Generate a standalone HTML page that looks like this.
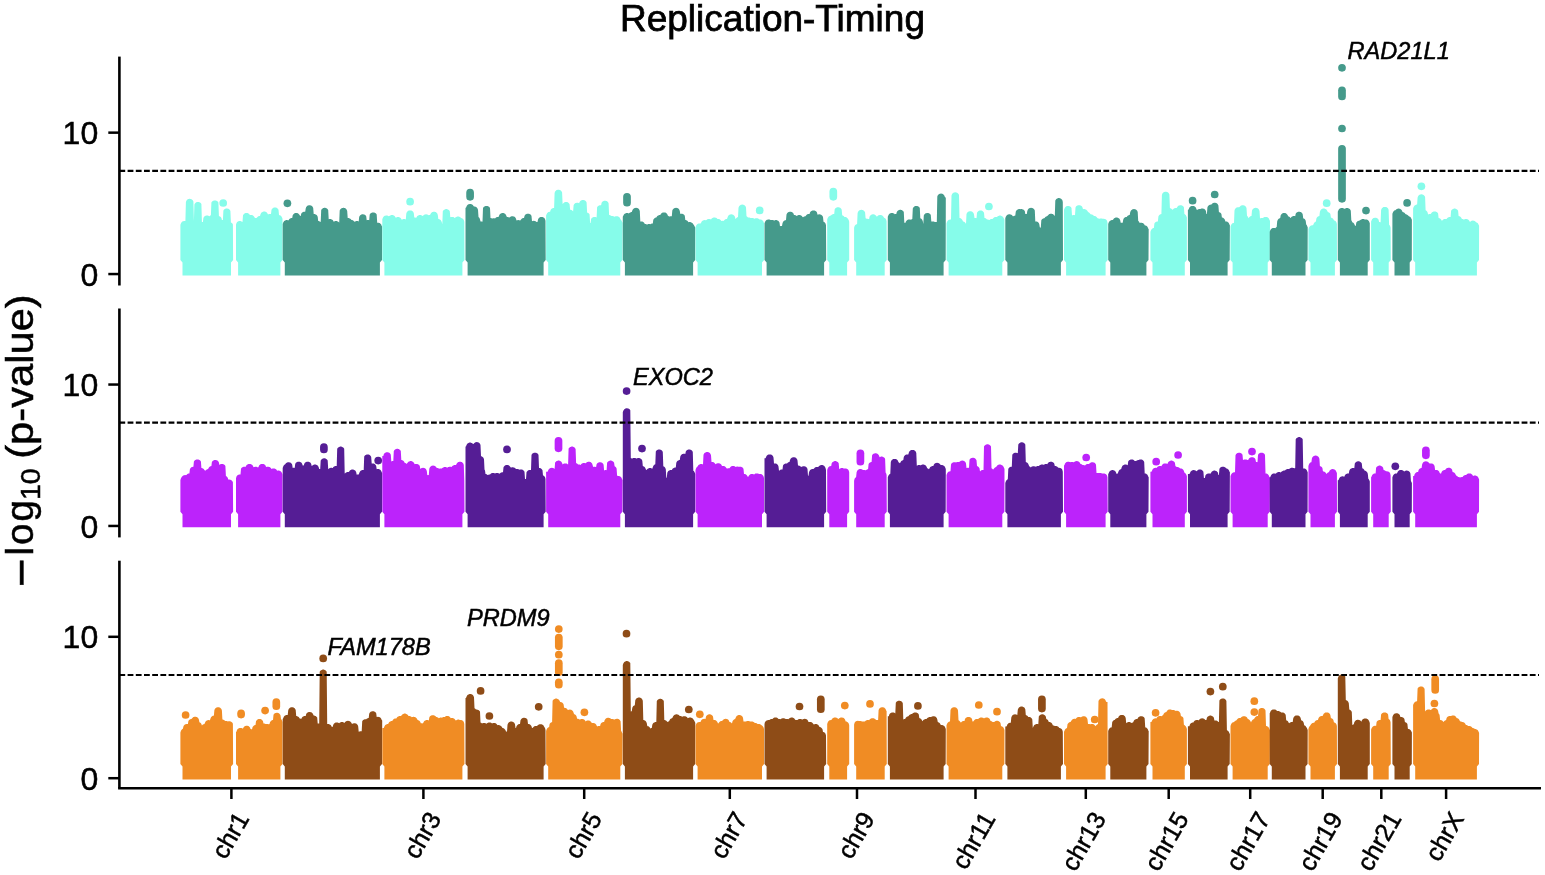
<!DOCTYPE html><html><head><meta charset="utf-8"><style>html,body{margin:0;padding:0;background:#fff;overflow:hidden}svg{display:block}text{stroke:#000;stroke-width:0.5px}</style></head><body><svg width="1545" height="875" viewBox="0 0 1545 875">
<rect width="1545" height="875" fill="#fff"/>
<path d="M182.5,275.4L182.5,262.4L180.4,259.9L180.4,224.8L180.9,223.5L181.4,222.6L181.9,222.0L182.4,221.6L182.9,221.3L183.4,221.2L183.9,221.0L184.4,221.0L184.9,221.0L185.4,221.1L185.9,202.0L186.4,200.7L186.9,200.0L187.4,199.6L187.9,199.2L188.4,199.0L188.9,198.9L189.4,198.8L189.9,198.8L190.4,198.9L190.9,199.0L191.4,199.2L191.9,199.5L192.4,199.9L192.9,200.5L193.4,201.6L193.9,221.0L194.4,204.4L194.9,203.5L195.4,202.9L195.9,202.5L196.4,202.2L196.9,202.1L197.4,201.9L197.9,201.9L198.4,201.9L198.9,202.0L199.4,202.2L199.9,202.4L200.4,202.7L200.9,203.2L201.4,203.9L201.9,222.0L202.4,222.0L202.9,222.1L203.4,218.0L203.9,217.1L204.4,216.5L204.9,216.1L205.4,215.8L205.9,215.7L206.4,215.5L206.9,215.5L207.4,215.5L207.9,215.6L208.4,215.8L208.9,216.0L209.4,216.3L209.9,216.1L210.4,215.5L210.9,215.1L211.4,202.6L211.9,201.8L212.4,201.3L212.9,201.0L213.4,200.7L213.9,200.5L214.4,200.4L214.9,200.4L215.4,200.4L215.9,200.5L216.4,200.7L216.9,201.0L217.4,201.3L217.9,201.8L218.4,202.6L218.9,216.1L219.4,216.3L219.9,216.5L220.4,216.8L220.9,217.3L221.4,218.0L221.9,220.0L222.4,220.0L222.9,220.1L223.4,210.5L223.9,209.8L224.4,209.3L224.9,209.0L225.4,208.8L225.9,208.6L226.4,208.5L226.9,208.5L227.4,208.5L227.9,208.7L228.4,208.8L228.9,209.1L229.4,209.5L229.9,210.1L230.4,211.0L230.9,222.4L231.4,222.7L231.9,223.1L232.4,223.6L232.9,224.6L233.1,259.9L231.0,262.4L231.0,275.4Z" fill="#86fcea"/>
<circle cx="223.2" cy="203.0" r="3.85" fill="#86fcea"/>
<path d="M238.1,275.4L238.1,262.4L236.0,259.9L236.0,224.8L236.5,223.0L237.0,222.3L237.5,221.8L238.0,221.5L238.5,221.2L239.0,221.1L239.5,221.0L240.0,221.0L240.5,221.1L241.0,221.2L241.5,221.4L242.0,221.7L242.5,222.1L243.0,215.2L243.5,214.4L244.0,213.9L244.5,213.6L245.0,213.3L245.5,213.1L246.0,213.0L246.5,213.0L247.0,213.0L247.5,213.1L248.0,213.3L248.5,213.6L249.0,213.9L249.5,214.4L250.0,215.1L250.5,215.0L251.0,215.0L251.5,215.0L252.0,215.1L252.5,215.3L253.0,215.6L253.5,215.9L254.0,216.4L254.5,217.2L255.0,218.1L255.5,218.0L256.0,218.0L256.5,218.0L257.0,217.4L257.5,216.9L258.0,216.6L258.5,216.3L259.0,216.1L259.5,216.0L260.0,216.0L260.5,214.3L261.0,213.2L261.5,212.6L262.0,212.2L262.5,211.9L263.0,211.7L263.5,211.6L264.0,211.5L264.5,211.5L265.0,211.6L265.5,211.7L266.0,211.9L266.5,212.3L267.0,212.7L267.5,213.4L268.0,214.6L268.5,214.3L269.0,214.1L269.5,214.0L270.0,214.0L270.5,214.0L271.0,214.1L271.5,209.7L272.0,208.9L272.5,208.4L273.0,208.1L273.5,207.8L274.0,207.6L274.5,207.5L275.0,207.5L275.5,207.5L276.0,207.6L276.5,207.8L277.0,208.1L277.5,208.4L278.0,208.9L278.5,209.7L279.0,215.0L279.5,215.2L280.0,215.3L280.5,215.6L281.0,216.0L281.5,216.6L282.0,217.5L282.5,218.8L282.5,259.9L280.4,262.4L280.4,275.4Z" fill="#86fcea"/>
<path d="M284.8,275.4L284.8,262.4L282.7,259.9L282.7,223.9L283.2,222.6L283.7,221.7L284.2,221.1L284.7,220.7L285.2,220.4L285.7,220.3L286.2,220.1L286.7,220.1L287.2,220.1L287.7,220.2L288.2,220.4L288.7,219.9L289.2,219.2L289.7,218.8L290.2,218.4L290.7,218.2L291.2,218.1L291.7,218.0L292.2,218.0L292.7,215.2L293.2,214.4L293.7,213.9L294.2,213.6L294.7,213.3L295.2,213.1L295.7,213.0L296.2,213.0L296.7,213.0L297.2,213.1L297.7,213.3L298.2,213.6L298.7,213.9L299.2,214.4L299.7,215.2L300.2,216.0L300.7,216.1L301.2,213.7L301.7,213.0L302.2,212.5L302.7,212.2L303.2,212.0L303.7,211.8L304.2,211.7L304.7,211.7L305.2,211.7L305.7,208.4L306.2,207.1L306.7,206.4L307.2,206.0L307.7,205.6L308.2,205.4L308.7,205.3L309.2,205.2L309.7,205.2L310.2,205.3L310.7,205.4L311.2,205.6L311.7,205.9L312.2,206.3L312.7,206.9L313.2,208.0L313.7,214.0L314.2,214.0L314.7,214.1L315.2,214.2L315.7,214.4L316.2,214.7L316.7,215.1L317.2,215.7L317.7,216.8L318.2,221.0L318.7,221.1L319.2,221.2L319.7,221.4L320.2,221.7L320.7,222.1L321.2,210.0L321.7,209.2L322.2,208.7L322.7,208.4L323.2,208.1L323.7,207.9L324.2,207.8L324.7,207.8L325.2,207.8L325.7,207.9L326.2,208.1L326.7,208.4L327.2,208.7L327.7,209.2L328.2,210.0L328.7,219.2L329.2,219.1L329.7,219.0L330.2,219.0L330.7,219.1L331.2,219.2L331.7,219.4L332.2,219.7L332.7,220.1L333.2,220.7L333.7,221.8L334.2,221.4L334.7,221.2L335.2,221.1L335.7,221.0L336.2,221.0L336.7,221.1L337.2,221.2L337.7,221.4L338.2,221.7L338.7,222.1L339.2,222.7L339.7,210.6L340.2,209.5L340.7,208.9L341.2,208.5L341.7,208.2L342.2,208.0L342.7,207.9L343.2,207.8L343.7,207.8L344.2,207.9L344.7,208.0L345.2,208.2L345.7,208.6L346.2,209.0L346.7,209.7L347.2,211.0L347.7,218.0L348.2,218.0L348.7,218.1L349.2,218.2L349.7,218.4L350.2,218.7L350.7,219.1L351.2,219.7L351.7,220.0L352.2,220.1L352.7,220.3L353.2,220.6L353.7,220.9L354.2,221.4L354.7,221.8L355.2,221.4L355.7,221.2L356.2,221.1L356.7,221.0L357.2,221.0L357.7,221.1L358.2,221.2L358.7,221.4L359.2,216.8L359.7,215.9L360.2,215.3L360.7,214.9L361.2,214.6L361.7,214.5L362.2,214.3L362.7,214.3L363.2,214.3L363.7,214.4L364.2,214.6L364.7,214.8L365.2,215.1L365.7,215.6L366.2,216.3L366.7,220.2L367.2,220.1L367.7,220.0L368.2,220.0L368.7,220.1L369.2,220.2L369.7,214.6L370.2,213.8L370.7,213.3L371.2,213.0L371.7,212.7L372.2,212.5L372.7,212.4L373.2,212.4L373.7,212.4L374.2,212.5L374.7,212.7L375.2,213.0L375.7,213.3L376.2,213.8L376.7,214.6L377.2,222.8L377.7,222.7L378.2,222.7L378.7,222.8L379.2,222.9L379.7,223.1L380.2,223.5L380.7,223.9L381.2,224.6L381.7,225.9L382.2,226.5L382.0,259.9L379.9,262.4L379.9,275.4Z" fill="#459a8b"/>
<circle cx="287.4" cy="203.3" r="3.85" fill="#459a8b"/>
<path d="M384.4,275.4L384.4,262.4L382.3,259.9L382.3,219.3L382.8,218.0L383.3,217.1L383.8,216.5L384.3,216.1L384.8,215.8L385.3,215.7L385.8,215.5L386.3,215.5L386.8,215.5L387.3,215.6L387.8,215.8L388.3,216.0L388.8,216.3L389.3,216.1L389.8,215.7L390.3,215.4L390.8,215.2L391.3,215.1L391.8,215.0L392.3,215.0L392.8,215.1L393.3,215.2L393.8,215.4L394.3,215.8L394.8,216.2L395.3,216.9L395.8,217.7L396.3,217.4L396.8,217.2L397.3,217.1L397.8,217.0L398.3,217.0L398.8,217.1L399.3,217.2L399.8,217.4L400.3,217.8L400.8,218.2L401.3,218.9L401.8,219.7L402.3,219.4L402.8,219.2L403.3,219.1L403.8,219.0L404.3,219.0L404.8,219.1L405.3,219.2L405.8,219.4L406.3,213.6L406.8,212.3L407.3,211.6L407.8,211.2L408.3,210.8L408.8,210.6L409.3,210.5L409.8,210.4L410.3,210.4L410.8,210.5L411.3,210.6L411.8,210.8L412.3,211.1L412.8,211.5L413.3,212.1L413.8,213.2L414.3,217.5L414.8,217.5L415.3,217.6L415.8,217.7L416.3,217.8L416.8,216.7L417.3,216.1L417.8,215.7L418.3,215.4L418.8,215.2L419.3,215.1L419.8,215.0L420.3,215.0L420.8,215.1L421.3,215.2L421.8,215.4L422.3,215.8L422.8,216.0L423.3,215.4L423.8,215.0L424.3,214.7L424.8,214.5L425.3,214.4L425.8,214.3L426.3,214.3L426.8,214.4L427.3,214.5L427.8,214.7L428.3,215.1L428.8,215.2L429.3,215.1L429.8,215.0L430.3,214.5L430.8,213.4L431.3,212.8L431.8,212.4L432.3,212.1L432.8,211.9L433.3,211.8L433.8,211.7L434.3,211.7L434.8,211.8L435.3,211.9L435.8,212.1L436.3,212.5L436.8,212.9L437.3,213.6L437.8,214.9L438.3,219.0L438.8,219.1L439.3,219.2L439.8,219.4L440.3,219.8L440.8,220.2L441.3,220.9L441.8,222.2L442.3,224.2L442.8,211.3L443.3,210.5L443.8,210.0L444.3,209.7L444.8,209.4L445.3,209.2L445.8,209.1L446.3,209.1L446.8,209.1L447.3,209.2L447.8,209.4L448.3,209.7L448.8,210.0L449.3,210.5L449.8,211.3L450.3,217.3L450.8,217.1L451.3,217.0L451.8,216.9L452.3,216.9L452.8,217.0L453.3,217.1L453.8,217.3L454.3,217.7L454.8,218.1L455.3,217.6L455.8,217.2L456.3,216.9L456.8,216.7L457.3,216.6L457.8,216.5L458.3,216.5L458.8,216.6L459.3,216.7L459.8,216.9L460.3,217.3L460.8,217.7L461.3,218.1L461.8,218.3L462.3,218.5L462.8,218.8L463.3,219.3L463.8,220.0L464.3,221.8L464.5,259.9L462.4,262.4L462.4,275.4Z" fill="#86fcea"/>
<circle cx="410.1" cy="201.7" r="3.85" fill="#86fcea"/>
<path d="M467.6,275.4L467.6,262.4L465.5,259.9L465.5,207.8L466.0,207.8L466.5,206.5L467.0,205.6L467.5,205.0L468.0,204.6L468.5,204.3L469.0,204.2L469.5,204.0L470.0,204.0L470.5,204.0L471.0,204.1L471.5,204.3L472.0,204.5L472.5,204.8L473.0,205.3L473.5,206.0L474.0,206.5L474.5,206.5L475.0,206.6L475.5,206.7L476.0,206.9L476.5,207.3L477.0,207.7L477.5,208.4L478.0,209.7L478.5,217.0L479.0,217.4L479.5,218.1L480.0,219.4L480.5,221.4L481.0,221.4L481.5,221.5L482.0,221.6L482.5,221.8L483.0,208.1L483.5,207.3L484.0,206.8L484.5,206.5L485.0,206.2L485.5,206.0L486.0,205.9L486.5,205.9L487.0,205.9L487.5,206.0L488.0,206.2L488.5,206.5L489.0,206.8L489.5,207.3L490.0,208.1L490.5,218.0L491.0,218.1L491.5,218.3L492.0,218.6L492.5,218.4L493.0,218.3L493.5,218.2L494.0,218.2L494.5,218.3L495.0,218.4L495.5,217.9L496.0,217.6L496.5,217.3L497.0,217.1L497.5,217.0L498.0,217.0L498.5,217.0L499.0,215.8L499.5,214.7L500.0,214.1L500.5,213.7L501.0,213.4L501.5,213.2L502.0,213.1L502.5,213.0L503.0,213.0L503.5,213.1L504.0,213.2L504.5,213.4L505.0,213.8L505.5,214.2L506.0,214.9L506.5,216.2L507.0,217.0L507.5,217.0L508.0,217.1L508.5,217.3L509.0,217.6L509.5,217.5L510.0,217.0L510.5,216.7L511.0,216.5L511.5,216.3L512.0,216.2L512.5,216.2L513.0,216.2L513.5,216.4L514.0,216.5L514.5,216.8L515.0,217.2L515.5,217.8L516.0,218.7L516.5,220.5L517.0,220.3L517.5,220.2L518.0,220.1L518.5,220.1L519.0,220.2L519.5,220.3L520.0,220.5L520.5,220.2L521.0,219.4L521.5,218.9L522.0,218.6L522.5,218.3L523.0,218.1L523.5,218.0L524.0,218.0L524.5,215.9L525.0,215.1L525.5,214.6L526.0,214.3L526.5,214.0L527.0,213.8L527.5,213.7L528.0,213.7L528.5,213.7L529.0,213.8L529.5,214.0L530.0,214.3L530.5,214.6L531.0,215.1L531.5,215.9L532.0,221.2L532.5,221.0L533.0,220.9L533.5,220.8L534.0,220.8L534.5,220.9L535.0,221.0L535.5,221.2L536.0,221.5L536.5,221.9L537.0,222.0L537.5,222.0L538.0,219.4L538.5,218.5L539.0,217.9L539.5,217.5L540.0,217.2L540.5,217.1L541.0,216.9L541.5,216.9L542.0,216.9L542.5,217.0L543.0,217.2L543.5,217.4L544.0,217.7L544.5,218.2L545.0,218.9L545.5,220.8L545.7,259.9L543.6,262.4L543.6,275.4Z" fill="#459a8b"/>
<rect x="466.25" y="188.8" width="7.7" height="11.90" rx="3.85" fill="#459a8b"/>
<path d="M548.2,275.4L548.2,262.4L546.1,259.9L546.1,215.5L546.6,214.2L547.1,213.3L547.6,212.7L548.1,212.3L548.6,212.0L549.1,211.9L549.6,211.7L550.1,211.7L550.6,210.0L551.1,209.3L551.6,208.8L552.1,208.5L552.6,208.3L553.1,208.1L553.6,208.0L554.1,208.0L554.6,192.9L555.1,191.6L555.6,190.9L556.1,190.5L556.6,190.1L557.1,189.9L557.6,189.8L558.1,189.7L558.6,189.7L559.1,189.8L559.6,189.9L560.1,190.1L560.6,190.4L561.1,190.8L561.6,191.4L562.1,192.5L562.6,204.0L563.1,203.4L563.6,202.9L564.1,202.6L564.6,202.3L565.1,202.1L565.6,202.0L566.1,202.0L566.6,202.0L567.1,202.1L567.6,202.3L568.1,202.6L568.6,202.9L569.1,203.4L569.6,204.2L570.1,209.8L570.6,209.8L571.1,210.0L571.6,210.1L572.1,210.4L572.6,210.8L573.1,211.4L573.6,205.2L574.1,204.3L574.6,203.7L575.1,203.3L575.6,203.0L576.1,202.9L576.6,202.7L577.1,202.7L577.6,202.7L578.1,202.8L578.6,203.0L579.1,203.2L579.6,202.0L580.1,201.3L580.6,200.8L581.1,200.5L581.6,200.3L582.1,200.1L582.6,200.0L583.1,200.0L583.6,200.0L584.1,200.2L584.6,200.3L585.1,200.6L585.6,201.0L586.1,201.6L586.6,202.5L587.1,212.5L587.6,212.7L588.1,212.9L588.6,213.2L589.1,213.7L589.6,214.4L590.1,222.9L590.6,223.0L591.1,219.1L591.6,218.3L592.1,217.8L592.6,217.5L593.1,217.2L593.6,217.0L594.1,216.9L594.6,216.9L595.1,216.9L595.6,217.0L596.1,217.2L596.6,217.5L597.1,207.2L597.6,206.5L598.1,206.0L598.6,205.7L599.1,205.5L599.6,205.3L600.1,205.2L600.6,205.2L601.1,205.2L601.6,202.7L602.1,202.0L602.6,201.5L603.1,201.2L603.6,201.0L604.1,200.8L604.6,200.7L605.1,200.7L605.6,200.7L606.1,200.9L606.6,201.0L607.1,201.3L607.6,201.7L608.1,202.3L608.6,203.2L609.1,215.0L609.6,215.1L610.1,215.2L610.6,215.4L611.1,215.7L611.6,216.0L612.1,216.0L612.6,216.0L613.1,216.2L613.6,216.3L614.1,216.6L614.6,216.8L615.1,216.5L615.6,216.3L616.1,216.2L616.6,216.2L617.1,216.2L617.6,216.3L618.1,216.5L618.6,216.8L619.1,217.1L619.6,217.6L620.1,218.4L620.6,219.6L621.1,220.0L621.6,220.7L622.1,222.0L622.6,222.7L622.4,259.9L620.3,262.4L620.3,275.4Z" fill="#86fcea"/>
<path d="M624.9,275.4L624.9,262.4L622.8,259.9L622.8,216.8L623.3,215.8L623.8,214.7L624.3,214.1L624.8,213.7L625.3,213.4L625.8,213.2L626.3,213.1L626.8,213.0L627.3,213.0L627.8,213.1L628.3,213.2L628.8,213.4L629.3,213.1L629.8,212.7L630.3,212.4L630.8,212.2L631.3,212.1L631.8,212.0L632.3,210.6L632.8,209.5L633.3,208.9L633.8,208.5L634.3,208.2L634.8,208.0L635.3,207.9L635.8,207.8L636.3,207.8L636.8,207.9L637.3,208.0L637.8,208.2L638.3,208.6L638.8,209.0L639.3,209.7L639.8,211.0L640.3,221.5L640.8,221.4L641.3,221.4L641.8,221.4L642.3,221.6L642.8,221.7L643.3,222.0L643.8,222.4L644.3,223.0L644.8,223.9L645.3,224.0L645.8,224.1L646.3,224.2L646.8,224.4L647.3,224.4L647.8,224.2L648.3,224.1L648.8,224.0L649.3,224.0L649.8,224.1L650.3,224.2L650.8,224.1L651.3,223.8L651.8,223.6L652.3,223.5L652.8,223.4L653.3,219.7L653.8,218.9L654.3,218.4L654.8,218.1L655.3,217.8L655.8,217.6L656.3,217.5L656.8,216.7L657.3,216.1L657.8,215.7L658.3,215.4L658.8,215.2L659.3,215.1L659.8,215.0L660.3,215.0L660.8,214.1L661.3,213.5L661.8,213.1L662.3,212.8L662.8,212.6L663.3,212.5L663.8,212.4L664.3,212.4L664.8,212.5L665.3,212.6L665.8,212.8L666.3,213.2L666.8,213.6L667.3,214.3L667.8,215.6L668.3,216.1L668.8,216.2L669.3,216.4L669.8,216.4L670.3,216.3L670.8,216.2L671.3,216.2L671.8,216.3L672.3,210.6L672.8,209.5L673.3,208.9L673.8,208.5L674.3,208.2L674.8,208.0L675.3,207.9L675.8,207.8L676.3,207.8L676.8,207.9L677.3,208.0L677.8,208.2L678.3,208.6L678.8,209.0L679.3,209.7L679.8,211.0L680.3,213.9L680.8,213.7L681.3,213.7L681.8,213.7L682.3,213.8L682.8,214.0L683.3,214.2L683.8,214.5L684.3,215.0L684.8,215.7L685.3,220.0L685.8,220.1L686.3,220.2L686.8,220.4L687.3,220.8L687.8,221.2L688.3,221.9L688.8,222.2L689.3,222.1L689.8,222.1L690.3,222.1L690.8,222.2L691.3,222.4L691.8,222.7L692.3,223.0L692.8,223.5L693.3,224.3L693.8,225.1L694.3,225.7L694.8,226.8L695.3,227.8L695.2,259.9L693.1,262.4L693.1,275.4Z" fill="#459a8b"/>
<rect x="623.15" y="193.0" width="7.7" height="13.50" rx="3.85" fill="#459a8b"/>
<path d="M697.6,275.4L697.6,262.4L695.5,259.9L695.5,227.2L696.0,225.9L696.5,225.0L697.0,224.4L697.5,224.0L698.0,223.7L698.5,223.6L699.0,223.4L699.5,223.4L700.0,223.4L700.5,223.5L701.0,222.9L701.5,221.8L702.0,221.2L702.5,220.8L703.0,220.5L703.5,220.3L704.0,220.2L704.5,220.1L705.0,220.1L705.5,220.2L706.0,220.3L706.5,219.9L707.0,219.6L707.5,219.3L708.0,219.1L708.5,219.0L709.0,219.0L709.5,219.0L710.0,219.1L710.5,219.3L711.0,219.5L711.5,218.8L712.0,218.3L712.5,218.0L713.0,217.8L713.5,217.6L714.0,217.5L714.5,217.5L715.0,217.5L715.5,217.7L716.0,217.8L716.5,218.1L717.0,218.5L717.5,219.0L718.0,219.0L718.5,219.0L719.0,219.1L719.5,219.3L720.0,219.6L720.5,219.9L721.0,220.4L721.5,221.0L722.0,220.9L722.5,220.8L723.0,220.8L723.5,220.9L724.0,220.4L724.5,219.9L725.0,219.6L725.5,219.3L726.0,219.1L726.5,219.0L727.0,219.0L727.5,217.5L728.0,216.2L728.5,215.5L729.0,215.1L729.5,214.7L730.0,214.5L730.5,214.4L731.0,214.3L731.5,214.3L732.0,214.4L732.5,214.5L733.0,214.7L733.5,215.0L734.0,215.4L734.5,216.0L735.0,217.1L735.5,219.2L736.0,218.4L736.5,217.9L737.0,217.6L737.5,217.3L738.0,217.1L738.5,207.8L739.0,206.5L739.5,205.8L740.0,205.4L740.5,205.0L741.0,204.8L741.5,204.7L742.0,204.6L742.5,204.6L743.0,204.7L743.5,204.8L744.0,205.0L744.5,205.3L745.0,205.7L745.5,206.3L746.0,207.4L746.5,216.3L747.0,216.6L747.5,216.9L748.0,217.4L748.5,217.5L749.0,217.5L749.5,217.6L750.0,217.7L750.5,217.9L751.0,218.1L751.5,218.0L752.0,218.0L752.5,218.0L753.0,218.1L753.5,218.3L754.0,218.6L754.5,218.8L755.0,218.5L755.5,218.3L756.0,218.2L756.5,218.2L757.0,218.2L757.5,218.3L758.0,218.5L758.5,218.8L759.0,219.1L759.5,219.5L760.0,219.5L760.5,219.5L761.0,219.6L761.5,219.8L762.0,220.1L762.5,220.4L763.0,220.9L763.5,221.7L764.0,223.3L764.1,259.9L762.0,262.4L762.0,275.4Z" fill="#86fcea"/>
<circle cx="759.7" cy="210.4" r="3.85" fill="#86fcea"/>
<path d="M766.6,275.4L766.6,262.4L764.5,259.9L764.5,223.3L765.0,222.0L765.5,221.1L766.0,220.5L766.5,220.1L767.0,219.8L767.5,219.7L768.0,219.5L768.5,219.5L769.0,219.5L769.5,219.6L770.0,219.8L770.5,220.0L771.0,220.1L771.5,220.0L772.0,220.0L772.5,220.0L773.0,220.1L773.5,220.3L774.0,220.6L774.5,220.4L775.0,220.2L775.5,220.1L776.0,220.1L776.5,220.1L777.0,220.3L777.5,220.4L778.0,220.7L778.5,221.1L779.0,221.7L779.5,222.6L780.0,226.2L780.5,226.0L781.0,226.0L781.5,226.0L782.0,226.1L782.5,223.3L783.0,222.0L783.5,221.3L784.0,220.9L784.5,220.5L785.0,220.3L785.5,220.2L786.0,220.1L786.5,214.5L787.0,213.4L787.5,212.8L788.0,212.4L788.5,212.1L789.0,211.9L789.5,211.8L790.0,211.7L790.5,211.7L791.0,211.8L791.5,211.9L792.0,212.1L792.5,212.5L793.0,212.9L793.5,213.6L794.0,214.9L794.5,215.0L795.0,215.1L795.5,215.3L796.0,215.6L796.5,215.9L797.0,215.7L797.5,215.4L798.0,215.2L798.5,215.1L799.0,215.0L799.5,215.0L800.0,215.1L800.5,215.2L801.0,215.4L801.5,215.8L802.0,216.2L802.5,216.9L803.0,217.3L803.5,216.9L804.0,216.6L804.5,216.4L805.0,216.3L805.5,216.2L806.0,215.4L806.5,214.9L807.0,214.6L807.5,214.3L808.0,214.1L808.5,214.0L809.0,214.0L809.5,214.0L810.0,212.6L810.5,211.8L811.0,211.3L811.5,211.0L812.0,210.7L812.5,210.5L813.0,210.4L813.5,210.4L814.0,210.4L814.5,210.5L815.0,210.7L815.5,211.0L816.0,211.3L816.5,211.8L817.0,212.6L817.5,214.7L818.0,214.5L818.5,214.4L819.0,214.3L819.5,214.3L820.0,214.4L820.5,214.5L821.0,214.7L821.5,215.0L822.0,215.4L822.5,216.0L823.0,217.1L823.5,221.7L824.0,221.9L824.5,222.2L825.0,222.7L825.5,223.4L826.0,225.2L826.2,259.9L824.1,262.4L824.1,275.4Z" fill="#459a8b"/>
<path d="M829.3,275.4L829.3,262.4L827.2,259.9L827.2,219.4L827.7,218.1L828.2,217.2L828.7,216.6L829.2,216.2L829.7,215.9L830.2,215.8L830.7,215.6L831.2,215.2L831.7,214.8L832.2,214.4L832.7,214.2L833.2,214.1L833.7,214.0L834.2,214.0L834.7,209.2L835.2,208.5L835.7,208.0L836.2,207.7L836.7,207.5L837.2,207.3L837.7,207.2L838.2,207.2L838.7,207.2L839.2,207.4L839.7,207.5L840.2,207.8L840.7,208.2L841.2,208.8L841.7,209.7L842.2,215.2L842.7,215.4L843.2,215.7L843.7,216.1L844.2,216.7L844.7,216.9L845.2,216.9L845.7,217.1L846.2,217.2L846.7,217.5L847.2,217.9L847.7,218.5L848.2,219.3L848.7,220.0L849.2,221.8L849.2,259.9L847.1,262.4L847.1,275.4Z" fill="#86fcea"/>
<rect x="829.45" y="187.8" width="7.7" height="12.90" rx="3.85" fill="#86fcea"/>
<path d="M856.2,275.4L856.2,262.4L854.1,259.9L854.1,227.8L854.6,226.0L855.1,225.3L855.6,224.8L856.1,224.5L856.6,224.2L857.1,224.1L857.6,213.0L858.1,211.7L858.6,211.0L859.1,210.6L859.6,210.2L860.1,210.0L860.6,209.9L861.1,209.8L861.6,209.8L862.1,209.9L862.6,210.0L863.1,210.2L863.6,210.5L864.1,210.9L864.6,211.5L865.1,212.6L865.6,218.3L866.1,218.6L866.6,218.8L867.1,218.8L867.6,218.8L868.1,218.9L868.6,219.1L869.1,219.3L869.6,216.5L870.1,215.7L870.6,215.2L871.1,214.9L871.6,214.6L872.1,214.4L872.6,214.3L873.1,214.3L873.6,214.3L874.1,214.4L874.6,214.6L875.1,214.9L875.6,215.2L876.1,215.7L876.6,216.5L877.1,216.6L877.6,216.0L878.1,215.6L878.6,215.3L879.1,215.2L879.6,215.0L880.1,215.0L880.6,215.0L881.1,215.1L881.6,215.3L882.1,215.5L882.6,215.8L883.1,216.3L883.6,217.0L884.1,217.8L884.6,218.0L885.1,218.3L885.6,218.8L886.1,219.5L886.6,221.3L886.8,259.9L884.7,262.4L884.7,275.4Z" fill="#86fcea"/>
<path d="M889.9,275.4L889.9,262.4L887.8,259.9L887.8,216.8L888.3,215.5L888.8,214.6L889.3,214.0L889.8,213.6L890.3,213.3L890.8,213.2L891.3,213.0L891.8,213.0L892.3,213.0L892.8,213.1L893.3,213.3L893.8,213.5L894.3,213.8L894.8,214.2L895.3,214.1L895.8,214.0L896.3,214.0L896.8,212.0L897.3,211.2L897.8,210.7L898.3,210.4L898.8,210.1L899.3,209.9L899.8,209.8L900.3,209.8L900.8,209.8L901.3,209.9L901.8,210.1L902.3,210.4L902.8,210.7L903.3,211.2L903.8,212.0L904.3,222.7L904.8,222.8L905.3,222.9L905.8,221.7L906.3,220.9L906.8,220.4L907.3,220.1L907.8,219.8L908.3,219.6L908.8,219.5L909.3,219.5L909.8,219.5L910.3,219.6L910.8,219.7L911.3,219.4L911.8,219.2L912.3,219.1L912.8,208.4L913.3,207.5L913.8,206.9L914.3,206.5L914.8,206.2L915.3,206.1L915.8,205.9L916.3,205.9L916.8,205.9L917.3,206.0L917.8,206.2L918.3,206.4L918.8,206.7L919.3,207.2L919.8,207.9L920.3,218.2L920.8,218.4L921.3,218.8L921.8,219.2L922.3,219.9L922.8,221.2L923.3,224.1L923.8,215.5L924.3,214.6L924.8,214.0L925.3,213.6L925.8,213.3L926.3,213.2L926.8,213.0L927.3,213.0L927.8,213.0L928.3,213.1L928.8,213.3L929.3,213.5L929.8,213.8L930.3,214.3L930.8,215.0L931.3,221.6L931.8,221.5L932.3,221.4L932.8,221.4L933.3,221.5L933.8,221.6L934.3,221.8L934.8,222.1L935.3,222.1L935.8,222.0L936.3,222.0L936.8,222.1L937.3,196.4L937.8,195.3L938.3,194.7L938.8,194.3L939.3,194.0L939.8,193.8L940.3,193.7L940.8,193.6L941.3,193.6L941.8,193.7L942.3,193.8L942.8,194.0L943.3,194.4L943.8,194.8L944.3,195.5L944.8,196.8L945.3,197.4L945.8,197.4L945.7,259.9L943.6,262.4L943.6,275.4Z" fill="#459a8b"/>
<path d="M948.6,275.4L948.6,262.4L946.5,259.9L946.5,223.3L947.0,222.0L947.5,221.1L948.0,220.5L948.5,220.1L949.0,219.8L949.5,219.7L950.0,219.5L950.5,219.5L951.0,219.5L951.5,195.5L952.0,194.2L952.5,193.5L953.0,193.1L953.5,192.7L954.0,192.5L954.5,192.4L955.0,192.3L955.5,192.3L956.0,192.4L956.5,192.5L957.0,192.7L957.5,193.0L958.0,193.4L958.5,194.0L959.0,195.1L959.5,218.0L960.0,218.1L960.5,218.3L961.0,218.6L961.5,218.9L962.0,219.4L962.5,220.2L963.0,221.4L963.5,221.6L964.0,221.7L964.5,222.0L965.0,222.4L965.5,223.0L966.0,223.9L966.5,214.0L967.0,212.9L967.5,212.3L968.0,211.9L968.5,211.6L969.0,211.4L969.5,211.3L970.0,211.2L970.5,211.2L971.0,211.3L971.5,211.4L972.0,211.6L972.5,212.0L973.0,212.4L973.5,213.1L974.0,214.4L974.5,218.0L975.0,218.0L975.5,218.0L976.0,218.1L976.5,218.3L977.0,212.7L977.5,211.9L978.0,211.4L978.5,211.1L979.0,210.8L979.5,210.6L980.0,210.5L980.5,210.5L981.0,210.5L981.5,210.6L982.0,210.8L982.5,211.1L983.0,211.4L983.5,211.9L984.0,212.7L984.5,218.0L985.0,218.1L985.5,218.3L986.0,218.6L986.5,218.9L987.0,219.4L987.5,219.5L988.0,219.6L988.5,219.8L989.0,220.1L989.5,219.9L990.0,219.6L990.5,219.3L991.0,219.1L991.5,219.0L992.0,219.0L992.5,219.0L993.0,218.4L993.5,217.9L994.0,217.6L994.5,217.3L995.0,217.1L995.5,217.0L996.0,217.0L996.5,217.0L997.0,216.9L997.5,216.4L998.0,216.1L998.5,215.9L999.0,215.7L999.5,215.6L1000.0,215.6L1000.5,215.6L1001.0,215.8L1001.5,215.9L1002.0,216.2L1002.5,216.6L1003.0,217.1L1003.5,217.7L1004.0,218.8L1004.5,219.8L1004.4,259.9L1002.3,262.4L1002.3,275.4Z" fill="#86fcea"/>
<circle cx="988.9" cy="206.5" r="3.85" fill="#86fcea"/>
<path d="M1007.4,275.4L1007.4,262.4L1005.3,259.9L1005.3,218.2L1005.8,216.8L1006.3,215.9L1006.8,215.3L1007.3,214.9L1007.8,214.6L1008.3,214.5L1008.8,214.3L1009.3,214.3L1009.8,214.3L1010.3,214.4L1010.8,214.6L1011.3,214.8L1011.8,215.1L1012.3,215.6L1012.8,216.3L1013.3,216.3L1013.8,216.0L1014.3,215.8L1014.8,215.7L1015.3,215.6L1015.8,211.6L1016.3,210.7L1016.8,210.1L1017.3,209.7L1017.8,209.4L1018.3,209.3L1018.8,209.1L1019.3,209.1L1019.8,209.1L1020.3,209.2L1020.8,209.1L1021.3,209.1L1021.8,209.1L1022.3,209.2L1022.8,209.4L1023.3,209.6L1023.8,209.9L1024.3,210.4L1024.8,211.1L1025.3,214.1L1025.8,214.0L1026.3,214.0L1026.8,214.1L1027.3,211.0L1027.8,209.7L1028.3,209.0L1028.8,208.6L1029.3,208.2L1029.8,208.0L1030.3,207.9L1030.8,207.8L1031.3,207.8L1031.8,207.9L1032.3,208.0L1032.8,208.2L1033.3,208.5L1033.8,208.9L1034.3,209.5L1034.8,210.6L1035.3,221.4L1035.8,221.4L1036.3,221.5L1036.8,221.6L1037.3,221.8L1037.8,222.1L1038.3,222.5L1038.8,223.1L1039.3,224.2L1039.8,227.3L1040.3,227.5L1040.8,227.8L1041.3,220.2L1041.8,219.5L1042.3,219.0L1042.8,218.7L1043.3,218.5L1043.8,218.3L1044.3,218.2L1044.8,217.7L1045.3,217.1L1045.8,216.7L1046.3,216.4L1046.8,216.2L1047.3,216.1L1047.8,215.6L1048.3,214.9L1048.8,214.5L1049.3,214.1L1049.8,213.9L1050.3,213.8L1050.8,213.7L1051.3,213.7L1051.8,213.8L1052.3,213.9L1052.8,214.1L1053.3,214.4L1053.8,214.8L1054.3,215.4L1054.8,216.0L1055.3,200.6L1055.8,199.7L1056.3,199.1L1056.8,198.7L1057.3,198.4L1057.8,198.3L1058.3,198.1L1058.8,198.1L1059.3,198.1L1059.8,198.2L1060.3,198.4L1060.8,198.6L1061.3,198.9L1061.8,199.4L1062.3,200.1L1062.8,201.9L1063.0,259.9L1060.9,262.4L1060.9,275.4Z" fill="#459a8b"/>
<path d="M1066.1,275.4L1066.1,262.4L1064.0,259.9L1064.0,209.8L1064.5,208.4L1065.0,207.5L1065.5,206.9L1066.0,206.5L1066.5,206.2L1067.0,206.1L1067.5,205.9L1068.0,205.9L1068.5,205.9L1069.0,206.0L1069.5,206.2L1070.0,206.4L1070.5,206.7L1071.0,207.2L1071.5,207.9L1072.0,215.4L1072.5,215.2L1073.0,215.1L1073.5,215.0L1074.0,215.0L1074.5,215.1L1075.0,215.2L1075.5,207.4L1076.0,206.6L1076.5,206.1L1077.0,205.8L1077.5,205.5L1078.0,205.3L1078.5,205.2L1079.0,205.2L1079.5,205.2L1080.0,205.3L1080.5,205.5L1081.0,205.8L1081.5,206.1L1082.0,206.6L1082.5,207.4L1083.0,209.3L1083.5,209.1L1084.0,209.1L1084.5,209.1L1085.0,209.2L1085.5,209.4L1086.0,209.6L1086.5,209.9L1087.0,210.4L1087.5,211.1L1088.0,212.1L1088.5,212.3L1089.0,212.6L1089.5,212.9L1090.0,213.4L1090.5,214.2L1091.0,214.3L1091.5,214.4L1092.0,214.6L1092.5,214.8L1093.0,215.1L1093.5,215.6L1094.0,216.0L1094.5,216.0L1095.0,216.1L1095.5,216.3L1096.0,216.6L1096.5,216.9L1097.0,217.4L1097.5,218.2L1098.0,218.3L1098.5,218.5L1099.0,218.7L1099.5,218.8L1100.0,218.6L1100.5,218.5L1101.0,218.5L1101.5,218.5L1102.0,218.6L1102.5,218.8L1103.0,218.8L1103.5,218.8L1104.0,218.8L1104.5,218.9L1105.0,219.1L1105.5,219.3L1106.0,219.6L1106.5,220.1L1107.0,220.8L1107.5,222.7L1107.7,259.9L1105.6,262.4L1105.6,275.4Z" fill="#86fcea"/>
<path d="M1110.3,275.4L1110.3,262.4L1108.2,259.9L1108.2,223.9L1108.7,222.6L1109.2,221.7L1109.7,221.1L1110.2,220.7L1110.7,220.4L1111.2,220.3L1111.7,220.1L1112.2,220.1L1112.7,220.1L1113.2,219.4L1113.7,218.7L1114.2,218.3L1114.7,217.9L1115.2,217.7L1115.7,217.6L1116.2,217.5L1116.7,217.5L1117.2,217.6L1117.7,217.7L1118.2,217.9L1118.7,218.2L1119.2,218.6L1119.7,219.2L1120.2,220.3L1120.7,222.8L1121.2,222.7L1121.7,222.7L1122.2,222.7L1122.7,222.8L1123.2,219.7L1123.7,218.6L1124.2,218.0L1124.7,217.6L1125.2,217.3L1125.7,217.1L1126.2,217.0L1126.7,216.9L1127.2,216.2L1127.7,215.8L1128.2,215.4L1128.7,215.2L1129.2,215.1L1129.7,215.0L1130.2,212.3L1130.7,211.0L1131.2,210.3L1131.7,209.9L1132.2,209.5L1132.7,209.3L1133.2,209.2L1133.7,209.1L1134.2,209.1L1134.7,209.2L1135.2,209.3L1135.7,209.5L1136.2,209.8L1136.7,210.2L1137.2,210.8L1137.7,211.9L1138.2,220.9L1138.7,221.3L1139.2,222.0L1139.7,223.0L1140.2,222.8L1140.7,222.7L1141.2,222.7L1141.7,222.7L1142.2,222.9L1142.7,223.0L1143.2,223.3L1143.7,223.7L1144.2,224.3L1144.7,225.2L1145.2,225.4L1145.7,225.5L1146.2,225.7L1146.7,226.1L1147.2,226.5L1147.7,227.2L1148.2,228.5L1148.7,229.2L1148.5,259.9L1146.4,262.4L1146.4,275.4Z" fill="#459a8b"/>
<path d="M1152.5,275.4L1152.5,262.4L1150.4,259.9L1150.4,231.8L1150.9,230.4L1151.4,229.5L1151.9,228.9L1152.4,228.5L1152.9,228.2L1153.4,228.1L1153.9,227.9L1154.4,223.6L1154.9,222.8L1155.4,222.3L1155.9,222.0L1156.4,221.7L1156.9,221.5L1157.4,221.4L1157.9,221.4L1158.4,216.5L1158.9,215.6L1159.4,215.0L1159.9,214.6L1160.4,214.3L1160.9,214.2L1161.4,214.0L1161.9,194.9L1162.4,193.6L1162.9,192.9L1163.4,192.5L1163.9,192.1L1164.4,191.9L1164.9,191.8L1165.4,191.7L1165.9,191.7L1166.4,191.8L1166.9,191.9L1167.4,192.1L1167.9,192.4L1168.4,192.8L1168.9,193.4L1169.4,194.5L1169.9,208.1L1170.4,208.3L1170.9,208.5L1171.4,208.8L1171.9,209.3L1172.4,209.8L1172.9,209.6L1173.4,209.0L1173.9,208.6L1174.4,208.3L1174.9,208.2L1175.4,208.0L1175.9,208.0L1176.4,208.0L1176.9,207.7L1177.4,206.8L1177.9,206.2L1178.4,205.8L1178.9,205.5L1179.4,205.4L1179.9,205.2L1180.4,205.2L1180.9,205.2L1181.4,205.3L1181.9,205.5L1182.4,205.7L1182.9,206.0L1183.4,206.5L1183.9,207.2L1184.4,214.0L1184.9,214.3L1185.4,214.7L1185.9,215.3L1186.4,216.2L1186.9,217.5L1186.9,259.9L1184.8,262.4L1184.8,275.4Z" fill="#86fcea"/>
<path d="M1190.0,275.4L1190.0,262.4L1187.9,259.9L1187.9,209.8L1188.4,209.8L1188.9,208.7L1189.4,207.6L1189.9,207.0L1190.4,206.6L1190.9,206.3L1191.4,206.1L1191.9,206.0L1192.4,205.9L1192.9,205.9L1193.4,206.0L1193.9,206.1L1194.4,206.3L1194.9,206.7L1195.4,207.1L1195.9,207.8L1196.4,209.1L1196.9,210.0L1197.4,209.7L1197.9,209.4L1198.4,209.2L1198.9,209.1L1199.4,209.1L1199.9,209.1L1200.4,209.0L1200.9,208.8L1201.4,208.6L1201.9,208.5L1202.4,208.5L1202.9,208.5L1203.4,208.7L1203.9,208.8L1204.4,209.1L1204.9,209.5L1205.4,210.1L1205.9,211.0L1206.4,214.0L1206.9,214.1L1207.4,207.4L1207.9,206.3L1208.4,205.7L1208.9,205.3L1209.4,205.0L1209.9,204.8L1210.4,204.7L1210.9,204.6L1211.4,204.6L1211.9,203.9L1212.4,203.5L1212.9,203.1L1213.4,202.9L1213.9,202.8L1214.4,202.7L1214.9,202.7L1215.4,202.8L1215.9,202.9L1216.4,203.1L1216.9,203.4L1217.4,203.8L1217.9,204.4L1218.4,205.5L1218.9,212.1L1219.4,212.3L1219.9,212.5L1220.4,212.8L1220.9,213.3L1221.4,214.0L1221.9,217.5L1222.4,217.6L1222.9,217.8L1223.4,218.1L1223.9,218.4L1224.4,218.9L1224.9,219.7L1225.4,221.4L1225.9,221.4L1226.4,221.5L1226.9,221.6L1227.4,221.8L1227.9,222.2L1228.4,222.6L1228.9,223.3L1229.4,224.6L1229.9,225.2L1229.7,259.9L1227.6,262.4L1227.6,275.4Z" fill="#459a8b"/>
<circle cx="1192.6" cy="200.7" r="3.85" fill="#459a8b"/>
<circle cx="1214.7" cy="194.5" r="3.85" fill="#459a8b"/>
<path d="M1232.6,275.4L1232.6,262.4L1230.5,259.9L1230.5,226.5L1231.0,225.2L1231.5,224.3L1232.0,223.7L1232.5,223.3L1233.0,223.0L1233.5,222.9L1234.0,222.7L1234.5,210.4L1235.0,209.1L1235.5,208.4L1236.0,208.0L1236.5,207.6L1237.0,207.4L1237.5,207.3L1238.0,207.2L1238.5,207.2L1239.0,207.3L1239.5,207.1L1240.0,206.4L1240.5,206.0L1241.0,205.6L1241.5,205.4L1242.0,205.3L1242.5,205.2L1243.0,205.2L1243.5,205.3L1244.0,205.4L1244.5,205.6L1245.0,205.9L1245.5,206.3L1246.0,206.9L1246.5,208.0L1247.0,215.8L1247.5,216.2L1248.0,216.9L1248.5,218.2L1249.0,217.4L1249.5,216.9L1250.0,216.6L1250.5,216.3L1251.0,216.1L1251.5,216.0L1252.0,210.6L1252.5,209.5L1253.0,208.9L1253.5,208.5L1254.0,208.2L1254.5,208.0L1255.0,207.9L1255.5,207.8L1256.0,207.8L1256.5,207.9L1257.0,208.0L1257.5,208.2L1258.0,208.6L1258.5,209.0L1259.0,209.7L1259.5,211.0L1260.0,218.6L1260.5,218.3L1261.0,218.1L1261.5,218.0L1262.0,218.0L1262.5,218.0L1263.0,218.0L1263.5,217.6L1264.0,217.3L1264.5,217.1L1265.0,217.0L1265.5,216.9L1266.0,216.9L1266.5,217.0L1267.0,217.1L1267.5,217.3L1268.0,217.7L1268.5,218.1L1269.0,218.8L1269.5,220.1L1270.0,220.8L1269.8,259.9L1267.7,262.4L1267.7,275.4Z" fill="#86fcea"/>
<path d="M1271.8,275.4L1271.8,262.4L1269.7,259.9L1269.7,231.8L1270.2,230.4L1270.7,229.5L1271.2,228.9L1271.7,228.5L1272.2,228.2L1272.7,228.1L1273.2,227.9L1273.7,227.9L1274.2,227.9L1274.7,228.0L1275.2,228.2L1275.7,227.7L1276.2,227.3L1276.7,227.0L1277.2,221.2L1277.7,219.9L1278.2,219.2L1278.7,218.8L1279.2,218.4L1279.7,218.2L1280.2,218.1L1280.7,215.2L1281.2,214.4L1281.7,213.9L1282.2,213.6L1282.7,213.3L1283.2,213.1L1283.7,213.0L1284.2,213.0L1284.7,213.0L1285.2,213.1L1285.7,213.3L1286.2,213.6L1286.7,213.9L1287.2,214.4L1287.7,215.2L1288.2,216.2L1288.7,216.4L1289.2,216.7L1289.7,217.1L1290.2,217.7L1290.7,217.9L1291.2,217.2L1291.7,216.8L1292.2,216.4L1292.7,216.2L1293.2,216.1L1293.7,216.0L1294.2,216.0L1294.7,216.1L1295.2,216.2L1295.7,213.7L1296.2,213.0L1296.7,212.5L1297.2,212.2L1297.7,212.0L1298.2,211.8L1298.7,211.7L1299.2,211.7L1299.7,211.7L1300.2,211.9L1300.7,212.0L1301.2,212.3L1301.7,212.7L1302.2,213.3L1302.7,214.2L1303.2,218.2L1303.7,218.4L1304.2,218.7L1304.7,219.1L1305.2,219.7L1305.7,220.8L1306.2,224.5L1306.7,225.1L1307.2,226.2L1307.7,227.2L1307.6,259.9L1305.5,262.4L1305.5,275.4Z" fill="#459a8b"/>
<path d="M1310.5,275.4L1310.5,262.4L1308.4,259.9L1308.4,229.2L1308.9,227.8L1309.4,226.9L1309.9,226.3L1310.4,225.9L1310.9,225.6L1311.4,225.5L1311.9,225.3L1312.4,225.3L1312.9,225.3L1313.4,224.6L1313.9,223.3L1314.4,222.6L1314.9,222.2L1315.4,221.8L1315.9,221.6L1316.4,218.5L1316.9,217.6L1317.4,217.0L1317.9,216.6L1318.4,216.3L1318.9,216.2L1319.4,216.0L1319.9,211.7L1320.4,210.4L1320.9,209.7L1321.4,209.3L1321.9,208.9L1322.4,208.7L1322.9,208.6L1323.4,208.5L1323.9,208.5L1324.4,208.6L1324.9,208.7L1325.4,208.9L1325.9,209.2L1326.4,209.6L1326.9,210.2L1327.4,211.3L1327.9,212.1L1328.4,212.3L1328.9,212.5L1329.4,212.8L1329.9,213.3L1330.4,214.0L1330.9,217.6L1331.4,217.7L1331.9,217.9L1332.4,218.2L1332.9,218.6L1333.4,219.2L1333.9,220.2L1334.4,220.4L1334.9,220.7L1335.4,221.0L1335.9,221.5L1336.4,222.3L1336.9,223.9L1337.0,259.9L1334.9,262.4L1334.9,275.4Z" fill="#86fcea"/>
<circle cx="1326.7" cy="203.2" r="3.85" fill="#86fcea"/>
<path d="M1339.9,275.4L1339.9,262.4L1337.8,259.9L1337.8,211.8L1338.3,210.5L1338.8,209.6L1339.3,209.0L1339.8,208.6L1340.3,208.3L1340.8,208.2L1341.3,208.0L1341.8,208.0L1342.3,208.0L1342.8,208.1L1343.3,208.3L1343.8,208.5L1344.3,208.8L1344.8,208.8L1345.3,208.4L1345.8,208.2L1346.3,208.1L1346.8,208.0L1347.3,208.0L1347.8,208.1L1348.3,208.2L1348.8,208.4L1349.3,208.7L1349.8,209.1L1350.3,209.7L1350.8,210.8L1351.3,220.3L1351.8,221.1L1352.3,222.2L1352.8,222.4L1353.3,222.8L1353.8,223.2L1354.3,223.9L1354.8,225.2L1355.3,225.8L1355.8,225.9L1356.3,222.6L1356.8,221.9L1357.3,221.4L1357.8,221.1L1358.3,220.9L1358.8,220.7L1359.3,220.6L1359.8,220.6L1360.3,220.1L1360.8,219.7L1361.3,219.4L1361.8,219.2L1362.3,219.1L1362.8,219.0L1363.3,219.0L1363.8,219.1L1364.3,219.2L1364.8,219.4L1365.3,219.4L1365.8,219.4L1366.3,219.4L1366.8,219.6L1367.3,219.7L1367.8,220.0L1368.3,220.4L1368.8,221.0L1369.3,221.9L1369.8,223.2L1369.8,259.9L1367.7,262.4L1367.7,275.4Z" fill="#459a8b"/>
<circle cx="1366.0" cy="210.6" r="3.85" fill="#459a8b"/>
<circle cx="1342.0" cy="67.8" r="3.85" fill="#459a8b"/>
<circle cx="1342.0" cy="128.5" r="3.85" fill="#459a8b"/>
<rect x="1338.15" y="86.4" width="7.7" height="13.90" rx="3.85" fill="#459a8b"/>
<rect x="1338.15" y="144.9" width="7.7" height="57.80" rx="3.85" fill="#459a8b"/>
<path d="M1373.2,275.4L1373.2,262.4L1371.1,259.9L1371.1,221.5L1371.6,220.2L1372.1,219.3L1372.6,218.7L1373.1,218.3L1373.6,218.0L1374.1,217.9L1374.6,217.7L1375.1,217.7L1375.6,217.7L1376.1,217.8L1376.6,218.0L1377.1,218.2L1377.6,218.5L1378.1,219.0L1378.6,219.7L1379.1,222.0L1379.6,222.0L1380.1,222.2L1380.6,222.3L1381.1,210.1L1381.6,208.8L1382.1,208.1L1382.6,207.7L1383.1,207.3L1383.6,207.1L1384.1,207.0L1384.6,206.9L1385.1,206.9L1385.6,207.0L1386.1,207.1L1386.6,207.3L1387.1,207.6L1387.6,208.0L1388.1,208.6L1388.6,209.7L1389.1,224.8L1389.6,225.3L1390.1,226.0L1390.6,227.8L1390.8,259.9L1388.7,262.4L1388.7,275.4Z" fill="#86fcea"/>
<path d="M1394.5,275.4L1394.5,262.4L1392.4,259.9L1392.4,213.8L1392.9,212.5L1393.4,211.6L1393.9,211.0L1394.4,210.6L1394.9,210.3L1395.4,210.2L1395.9,209.7L1396.4,209.3L1396.9,209.0L1397.4,208.8L1397.9,208.7L1398.4,208.6L1398.9,208.6L1399.4,208.7L1399.9,208.8L1400.4,209.0L1400.9,209.4L1401.4,209.8L1401.9,210.5L1402.4,211.8L1402.9,212.1L1403.4,212.3L1403.9,212.5L1404.4,212.8L1404.9,213.3L1405.4,214.0L1405.9,214.3L1406.4,214.4L1406.9,214.6L1407.4,214.9L1407.9,215.2L1408.4,215.7L1408.9,216.2L1409.4,216.4L1409.9,216.7L1410.4,217.1L1410.9,217.7L1411.4,218.8L1411.9,219.8L1411.8,259.9L1409.7,262.4L1409.7,275.4Z" fill="#459a8b"/>
<circle cx="1407.1" cy="202.9" r="3.85" fill="#459a8b"/>
<path d="M1415.2,275.4L1415.2,262.4L1413.1,259.9L1413.1,208.4L1413.6,207.1L1414.1,206.2L1414.6,205.6L1415.1,205.2L1415.6,204.9L1416.1,204.8L1416.6,204.6L1417.1,204.6L1417.6,197.5L1418.1,196.2L1418.6,195.5L1419.1,195.1L1419.6,194.7L1420.1,194.5L1420.6,194.4L1421.1,194.3L1421.6,194.3L1422.1,194.4L1422.6,194.5L1423.1,194.7L1423.6,195.0L1424.1,195.4L1424.6,196.0L1425.1,197.1L1425.6,210.3L1426.1,210.6L1426.6,211.0L1427.1,211.6L1427.6,212.5L1428.1,214.5L1428.6,214.3L1429.1,214.1L1429.6,214.0L1430.1,214.0L1430.6,214.0L1431.1,213.6L1431.6,212.8L1432.1,212.3L1432.6,212.0L1433.1,211.7L1433.6,211.5L1434.1,211.4L1434.6,211.4L1435.1,211.4L1435.6,211.5L1436.1,211.7L1436.6,212.0L1437.1,212.3L1437.6,212.8L1438.1,213.6L1438.6,218.0L1439.1,218.2L1439.6,218.3L1440.1,218.6L1440.6,219.0L1441.1,219.6L1441.6,220.5L1442.1,220.8L1442.6,220.1L1443.1,219.7L1443.6,219.3L1444.1,219.1L1444.6,219.0L1445.1,218.9L1445.6,218.9L1446.1,219.0L1446.6,219.0L1447.1,218.3L1447.6,217.8L1448.1,217.5L1448.6,217.3L1449.1,217.1L1449.6,217.0L1450.1,217.0L1450.6,217.0L1451.1,210.8L1451.6,210.0L1452.1,209.5L1452.6,209.2L1453.1,208.9L1453.6,208.7L1454.1,208.6L1454.6,208.6L1455.1,208.6L1455.6,208.7L1456.1,208.9L1456.6,209.2L1457.1,209.5L1457.6,210.0L1458.1,210.8L1458.6,216.0L1459.1,216.2L1459.6,216.3L1460.1,216.6L1460.6,217.0L1461.1,217.6L1461.6,218.5L1462.1,219.0L1462.6,219.1L1463.1,219.3L1463.6,219.6L1464.1,219.5L1464.6,219.3L1465.1,219.1L1465.6,219.0L1466.1,219.0L1466.6,219.0L1467.1,219.2L1467.6,219.3L1468.1,219.6L1468.6,220.0L1469.1,220.6L1469.6,221.5L1470.1,221.8L1470.6,221.4L1471.1,221.0L1471.6,220.8L1472.1,220.7L1472.6,220.6L1473.1,220.6L1473.6,220.7L1474.1,220.8L1474.6,221.0L1475.1,221.3L1475.6,221.7L1476.1,222.2L1476.6,222.4L1477.1,222.7L1477.6,223.1L1478.1,223.7L1478.6,224.8L1479.1,225.8L1479.0,259.9L1476.9,262.4L1476.9,275.4Z" fill="#86fcea"/>
<circle cx="1421.4" cy="186.3" r="3.85" fill="#86fcea"/>
<path d="M182.5,527.3L182.5,514.3L180.4,511.8L180.4,479.9L180.9,478.5L181.4,477.6L181.9,476.8L182.4,476.2L182.9,475.8L183.4,475.5L183.9,475.3L184.4,475.2L184.9,475.1L185.4,475.1L185.9,475.2L186.4,475.1L186.9,474.5L187.4,474.1L187.9,473.8L188.4,473.6L188.9,473.5L189.4,473.4L189.9,469.2L190.4,468.3L190.9,467.7L191.4,467.3L191.9,467.0L192.4,466.9L192.9,466.7L193.4,466.7L193.9,461.6L194.4,460.8L194.9,460.3L195.4,460.0L195.9,459.7L196.4,459.5L196.9,459.4L197.4,459.4L197.9,459.4L198.4,459.5L198.9,459.7L199.4,460.0L199.9,460.3L200.4,460.8L200.9,461.6L201.4,468.0L201.9,468.1L202.4,468.3L202.9,468.5L203.4,468.8L203.9,469.3L204.4,470.0L204.9,470.6L205.4,470.7L205.9,470.1L206.4,469.7L206.9,469.4L207.4,469.2L207.9,469.1L208.4,468.5L208.9,467.6L209.4,467.0L209.9,466.6L210.4,466.3L210.9,466.2L211.4,466.0L211.9,462.0L212.4,461.3L212.9,460.8L213.4,460.5L213.9,460.3L214.4,460.1L214.9,460.0L215.4,460.0L215.9,460.0L216.4,460.2L216.9,460.3L217.4,460.6L217.9,461.0L218.4,461.6L218.9,462.5L219.4,464.9L219.9,464.5L220.4,464.2L220.9,464.1L221.4,463.9L221.9,463.9L222.4,463.9L222.9,464.0L223.4,464.2L223.9,464.4L224.4,464.7L224.9,465.2L225.4,465.9L225.9,476.0L226.4,476.3L226.9,476.7L227.4,477.3L227.9,478.2L228.4,479.7L228.9,479.6L229.4,479.6L229.9,479.7L230.4,479.8L230.9,480.0L231.4,480.3L231.9,480.7L232.4,481.2L232.9,482.2L233.1,511.8L231.0,514.3L231.0,527.3Z" fill="#bc23fb"/>
<path d="M238.1,527.3L238.1,514.3L236.0,511.8L236.0,478.3L236.5,476.5L237.0,475.8L237.5,475.3L238.0,475.0L238.5,474.7L239.0,474.6L239.5,474.5L240.0,474.5L240.5,474.6L241.0,468.7L241.5,468.0L242.0,467.5L242.5,467.2L243.0,467.0L243.5,466.8L244.0,466.7L244.5,466.7L245.0,466.7L245.5,466.9L246.0,466.1L246.5,465.3L247.0,464.8L247.5,464.5L248.0,464.2L248.5,464.0L249.0,463.9L249.5,463.9L250.0,463.9L250.5,464.0L251.0,464.2L251.5,464.5L252.0,464.8L252.5,465.3L253.0,466.1L253.5,467.3L254.0,467.0L254.5,466.9L255.0,466.7L255.5,466.7L256.0,466.7L256.5,466.8L257.0,467.0L257.5,467.2L258.0,467.5L258.5,467.1L259.0,465.8L259.5,465.1L260.0,464.7L260.5,464.3L261.0,464.1L261.5,464.0L262.0,463.9L262.5,463.9L263.0,464.0L263.5,464.1L264.0,464.3L264.5,464.6L265.0,465.0L265.5,465.6L266.0,466.7L266.5,467.0L267.0,466.8L267.5,466.7L268.0,466.7L268.5,466.7L269.0,466.9L269.5,467.0L270.0,467.3L270.5,467.7L271.0,468.3L271.5,469.0L272.0,468.7L272.5,468.5L273.0,468.4L273.5,468.4L274.0,468.4L274.5,468.5L275.0,468.7L275.5,469.0L276.0,469.3L276.5,469.8L277.0,470.6L277.5,470.7L278.0,470.6L278.5,470.6L279.0,470.6L279.5,470.8L280.0,470.9L280.5,471.2L281.0,471.6L281.5,472.2L282.0,473.1L282.5,474.5L282.5,511.8L280.4,514.3L280.4,527.3Z" fill="#bc23fb"/>
<path d="M284.8,527.3L284.8,514.3L282.7,511.8L282.7,467.9L283.2,466.5L283.7,465.6L284.2,465.0L284.7,464.6L285.2,464.2L285.7,463.5L286.2,463.0L286.7,462.7L287.2,462.5L287.7,462.3L288.2,462.2L288.7,462.2L289.2,462.2L289.7,462.4L290.2,462.5L290.7,462.8L291.2,463.2L291.7,463.8L292.2,464.7L292.7,467.9L293.2,467.8L293.7,467.8L294.2,467.8L294.7,467.9L295.2,463.9L295.7,463.1L296.2,462.6L296.7,462.3L297.2,462.0L297.7,461.8L298.2,461.7L298.7,461.7L299.2,461.7L299.7,461.8L300.2,462.0L300.7,462.3L301.2,462.6L301.7,463.1L302.2,463.9L302.7,465.6L303.2,465.6L303.7,465.6L304.2,463.9L304.7,463.1L305.2,462.6L305.7,462.3L306.2,462.0L306.7,461.8L307.2,461.7L307.7,461.7L308.2,461.7L308.7,461.8L309.2,462.0L309.7,462.3L310.2,462.6L310.7,463.1L311.2,463.9L311.7,466.1L312.2,465.7L312.7,465.3L313.2,464.9L313.7,464.7L314.2,464.6L314.7,464.5L315.2,464.5L315.7,464.6L316.2,464.7L316.7,464.9L317.2,465.2L317.7,465.6L318.2,466.2L318.7,467.3L319.2,469.0L319.7,469.0L320.2,469.1L320.7,460.5L321.2,459.7L321.7,459.2L322.2,458.9L322.7,458.6L323.2,458.4L323.7,458.3L324.2,458.3L324.7,458.3L325.2,458.4L325.7,458.6L326.2,458.9L326.7,459.2L327.2,459.7L327.7,460.5L328.2,469.2L328.7,468.7L329.2,468.4L329.7,468.1L330.2,467.9L330.7,467.8L331.2,467.8L331.7,467.8L332.2,467.9L332.7,467.9L333.2,467.2L333.7,466.8L334.2,466.4L334.7,466.2L335.2,466.1L335.7,466.0L336.2,466.0L336.7,466.1L337.2,448.8L337.7,448.0L338.2,447.5L338.7,447.2L339.2,446.9L339.7,446.7L340.2,446.6L340.7,446.6L341.2,446.6L341.7,446.7L342.2,446.9L342.7,447.2L343.2,447.5L343.7,448.0L344.2,448.8L344.7,473.4L345.2,473.2L345.7,472.8L346.2,472.4L346.7,472.2L347.2,472.1L347.7,472.0L348.2,472.0L348.7,472.1L349.2,471.4L349.7,470.7L350.2,470.3L350.7,469.9L351.2,469.7L351.7,469.6L352.2,469.5L352.7,469.5L353.2,469.6L353.7,469.7L354.2,469.9L354.7,470.2L355.2,470.6L355.7,471.2L356.2,472.3L356.7,474.8L357.2,474.6L357.7,474.5L358.2,474.5L358.7,474.5L359.2,473.2L359.7,471.9L360.2,471.2L360.7,470.8L361.2,470.4L361.7,470.2L362.2,470.1L362.7,470.0L363.2,470.0L363.7,470.1L364.2,456.4L364.7,455.7L365.2,455.2L365.7,454.9L366.2,454.7L366.7,454.5L367.2,454.4L367.7,454.4L368.2,454.4L368.7,454.6L369.2,454.7L369.7,455.0L370.2,455.4L370.7,456.0L371.2,456.9L371.7,463.5L372.2,463.4L372.7,463.4L373.2,463.4L373.7,463.6L374.2,463.7L374.7,464.0L375.2,464.4L375.7,465.0L376.2,465.9L376.7,469.2L377.2,469.1L377.7,469.0L378.2,469.0L378.7,469.1L379.2,469.2L379.7,469.4L380.2,469.8L380.7,470.2L381.2,470.9L381.7,472.2L382.2,472.9L382.0,511.8L379.9,514.3L379.9,527.3Z" fill="#551d95"/>
<circle cx="378.2" cy="460.6" r="3.85" fill="#551d95"/>
<rect x="320.05" y="443.2" width="7.7" height="10.10" rx="3.85" fill="#551d95"/>
<path d="M384.4,527.3L384.4,514.3L382.3,511.8L382.3,456.1L382.8,456.1L383.3,456.1L383.8,454.2L384.3,453.5L384.8,453.0L385.3,452.7L385.8,452.5L386.3,452.3L386.8,452.2L387.3,452.2L387.8,452.2L388.3,452.4L388.8,452.5L389.3,452.8L389.8,453.2L390.3,453.8L390.8,454.7L391.3,461.4L391.8,461.2L392.3,461.1L392.8,461.1L393.3,461.1L393.8,451.0L394.3,450.2L394.8,449.7L395.3,449.4L395.8,449.1L396.3,448.9L396.8,448.8L397.3,448.8L397.8,448.8L398.3,448.9L398.8,449.1L399.3,449.4L399.8,449.7L400.3,450.2L400.8,451.0L401.3,460.0L401.8,460.1L402.3,460.2L402.8,460.4L403.3,460.8L403.8,461.2L404.3,461.9L404.8,462.9L405.3,463.0L405.8,463.2L406.3,463.6L406.8,464.0L407.3,463.1L407.8,462.4L408.3,461.9L408.8,461.6L409.3,461.4L409.8,461.2L410.3,461.1L410.8,461.1L411.3,461.1L411.8,461.3L412.3,461.4L412.8,461.7L413.3,462.1L413.8,462.7L414.3,463.6L414.8,464.2L415.3,464.0L415.8,463.9L416.3,463.9L416.8,463.9L417.3,464.0L417.8,464.2L418.3,464.5L418.8,464.8L419.3,465.3L419.8,466.1L420.3,468.9L420.8,468.5L421.3,468.2L421.8,468.0L422.3,467.9L422.8,467.8L423.3,467.8L423.8,467.9L424.3,468.0L424.8,468.2L425.3,468.6L425.8,469.0L426.3,469.7L426.8,471.0L427.3,475.2L427.8,475.1L428.3,475.1L428.8,475.2L429.3,468.8L429.8,467.5L430.3,466.8L430.8,466.4L431.3,466.0L431.8,465.8L432.3,465.7L432.8,465.6L433.3,465.6L433.8,465.7L434.3,465.8L434.8,466.0L435.3,466.3L435.8,466.7L436.3,467.3L436.8,468.0L437.3,468.0L437.8,468.1L438.3,468.2L438.8,468.4L439.3,468.7L439.8,468.6L440.3,468.4L440.8,468.4L441.3,468.4L441.8,468.5L442.3,468.1L442.8,467.7L443.3,467.4L443.8,467.2L444.3,467.1L444.8,467.0L445.3,467.0L445.8,467.1L446.3,467.2L446.8,467.4L447.3,467.7L447.8,467.3L448.3,467.0L448.8,466.9L449.3,466.7L449.8,466.7L450.3,466.7L450.8,466.8L451.3,467.0L451.8,466.7L452.3,466.1L452.8,465.7L453.3,465.4L453.8,465.2L454.3,465.1L454.8,465.0L455.3,465.0L455.8,465.1L456.3,464.5L456.8,463.4L457.3,462.8L457.8,462.4L458.3,462.1L458.8,461.9L459.3,461.8L459.8,461.7L460.3,461.7L460.8,461.8L461.3,461.9L461.8,462.1L462.3,462.5L462.8,462.9L463.3,463.6L463.8,464.9L464.3,480.7L464.5,511.8L462.4,514.3L462.4,527.3Z" fill="#bc23fb"/>
<path d="M467.6,527.3L467.6,514.3L465.5,511.8L465.5,446.5L466.0,446.5L466.5,445.1L467.0,444.2L467.5,443.6L468.0,443.2L468.5,442.9L469.0,442.8L469.5,442.6L470.0,442.6L470.5,442.6L471.0,442.7L471.5,442.9L472.0,443.1L472.5,443.4L473.0,443.9L473.5,444.0L474.0,443.3L474.5,442.9L475.0,442.5L475.5,442.3L476.0,442.2L476.5,442.1L477.0,442.1L477.5,442.2L478.0,442.3L478.5,442.5L479.0,442.8L479.5,443.2L480.0,443.8L480.5,444.9L481.0,456.2L481.5,456.3L482.0,456.5L482.5,456.9L483.0,457.3L483.5,458.0L484.0,459.3L484.5,469.5L485.0,470.6L485.5,474.0L486.0,474.1L486.5,474.3L487.0,474.6L487.5,474.9L488.0,474.9L488.5,474.7L489.0,474.6L489.5,474.5L490.0,474.4L490.5,473.9L491.0,473.6L491.5,473.3L492.0,473.1L492.5,473.0L493.0,473.0L493.5,473.0L494.0,473.1L494.5,473.3L495.0,473.5L495.5,473.2L496.0,473.0L496.5,472.9L497.0,472.9L497.5,472.9L498.0,473.0L498.5,473.2L499.0,473.5L499.5,473.7L500.0,473.2L500.5,472.9L501.0,472.6L501.5,472.4L502.0,472.3L502.5,472.3L503.0,472.3L503.5,467.2L504.0,466.4L504.5,465.9L505.0,465.6L505.5,465.3L506.0,465.1L506.5,465.0L507.0,465.0L507.5,465.0L508.0,465.1L508.5,465.3L509.0,465.6L509.5,465.9L510.0,466.4L510.5,467.2L511.0,467.6L511.5,467.5L512.0,467.3L512.5,467.3L513.0,467.3L513.5,467.4L514.0,467.6L514.5,467.8L515.0,468.1L515.5,468.6L516.0,469.1L516.5,469.0L517.0,469.0L517.5,469.0L518.0,469.1L518.5,469.3L519.0,469.6L519.5,469.8L520.0,469.6L520.5,469.5L521.0,469.5L521.5,469.5L522.0,469.6L522.5,469.8L523.0,470.1L523.5,470.4L524.0,470.9L524.5,471.7L525.0,479.0L525.5,479.0L526.0,479.1L526.5,472.2L527.0,471.4L527.5,470.9L528.0,470.6L528.5,470.3L529.0,470.1L529.5,470.0L530.0,470.0L530.5,470.0L531.0,470.1L531.5,454.9L532.0,454.1L532.5,453.6L533.0,453.3L533.5,453.0L534.0,452.8L534.5,452.7L535.0,452.7L535.5,452.7L536.0,452.8L536.5,453.0L537.0,453.3L537.5,453.6L538.0,454.1L538.5,454.9L539.0,468.0L539.5,468.0L540.0,468.1L540.5,468.3L541.0,468.6L541.5,468.9L542.0,469.4L542.5,470.2L543.0,475.4L543.5,475.6L544.0,475.9L544.5,476.4L545.0,477.1L545.5,479.0L545.7,511.8L543.6,514.3L543.6,527.3Z" fill="#551d95"/>
<circle cx="507.0" cy="449.4" r="3.85" fill="#551d95"/>
<path d="M548.2,527.3L548.2,514.3L546.1,511.8L546.1,471.7L546.6,471.7L547.1,471.7L547.6,471.7L548.1,470.6L548.6,469.5L549.1,468.9L549.6,468.5L550.1,468.2L550.6,468.0L551.1,467.9L551.6,467.8L552.1,467.8L552.6,467.9L553.1,468.0L553.6,468.2L554.1,468.6L554.6,469.0L555.1,462.6L555.6,461.9L556.1,461.4L556.6,461.1L557.1,460.9L557.6,460.7L558.1,460.6L558.6,460.6L559.1,460.6L559.6,460.8L560.1,460.9L560.6,461.2L561.1,461.6L561.6,462.2L562.1,463.1L562.6,464.5L563.1,464.1L563.6,463.8L564.1,463.6L564.6,463.5L565.1,463.4L565.6,463.4L566.1,463.5L566.6,463.6L567.1,463.8L567.6,464.2L568.1,464.6L568.6,448.6L569.1,447.9L569.6,447.4L570.1,447.1L570.6,446.9L571.1,446.7L571.6,446.6L572.1,446.6L572.6,446.6L573.1,446.8L573.6,446.9L574.1,447.2L574.6,447.6L575.1,448.2L575.6,449.1L576.1,463.2L576.6,463.3L577.1,463.6L577.6,464.0L578.1,464.5L578.6,464.5L579.1,464.5L579.6,464.6L580.1,464.8L580.6,465.0L581.1,464.3L581.6,463.8L582.1,463.5L582.6,463.3L583.1,463.1L583.6,463.0L584.1,463.0L584.6,463.0L585.1,463.2L585.6,463.3L586.1,462.8L586.6,462.4L587.1,462.1L587.6,461.9L588.1,461.8L588.6,461.7L589.1,461.7L589.6,461.8L590.1,461.9L590.6,462.1L591.1,462.5L591.6,462.9L592.1,463.6L592.6,464.9L593.1,466.9L593.6,466.8L594.1,466.7L594.6,466.7L595.1,466.8L595.6,466.9L596.1,467.1L596.6,464.2L597.1,463.5L597.6,463.0L598.1,462.7L598.6,462.5L599.1,462.3L599.6,462.2L600.1,462.2L600.6,462.2L601.1,462.4L601.6,462.5L602.1,462.8L602.6,463.2L603.1,463.8L603.6,464.7L604.1,470.4L604.6,470.2L605.1,470.1L605.6,470.1L606.1,470.1L606.6,470.2L607.1,462.8L607.6,462.0L608.1,461.5L608.6,461.2L609.1,460.9L609.6,460.7L610.1,460.6L610.6,460.6L611.1,460.6L611.6,460.7L612.1,460.9L612.6,461.2L613.1,461.5L613.6,462.0L614.1,462.8L614.6,466.3L615.1,466.6L615.6,467.0L616.1,467.6L616.6,468.5L617.1,475.7L617.6,475.8L618.1,475.9L618.6,476.0L619.1,476.1L619.6,476.2L620.1,476.4L620.6,476.8L621.1,477.2L621.6,477.9L622.1,479.2L622.6,479.9L622.4,511.8L620.3,514.3L620.3,527.3Z" fill="#bc23fb"/>
<rect x="554.65" y="437.0" width="7.7" height="15.20" rx="3.85" fill="#bc23fb"/>
<path d="M624.9,527.3L624.9,514.3L622.8,511.8L622.8,412.2L623.3,410.8L623.8,409.9L624.3,409.3L624.8,408.9L625.3,408.6L625.8,408.5L626.3,408.3L626.8,408.3L627.3,408.3L627.8,408.4L628.3,408.6L628.8,408.8L629.3,409.1L629.8,409.6L630.3,410.3L630.8,458.1L631.3,458.2L631.8,458.4L632.3,458.6L632.8,458.3L633.3,458.1L633.8,458.0L634.3,458.0L634.8,458.0L635.3,458.1L635.8,458.3L636.3,458.6L636.8,458.4L637.3,458.2L637.8,458.1L638.3,458.0L638.8,458.0L639.3,458.1L639.8,458.2L640.3,458.4L640.8,458.7L641.3,459.1L641.8,459.7L642.3,460.8L642.8,466.1L643.3,466.2L643.8,466.4L644.3,466.8L644.8,467.2L645.3,467.9L645.8,469.2L646.3,470.0L646.8,469.7L647.3,469.1L647.8,468.7L648.3,468.4L648.8,468.2L649.3,468.1L649.8,468.0L650.3,468.0L650.8,468.1L651.3,468.2L651.8,468.4L652.3,468.8L652.8,467.2L653.3,465.9L653.8,465.2L654.3,464.8L654.8,464.4L655.3,464.2L655.8,451.5L656.3,450.8L656.8,450.3L657.3,450.0L657.8,449.8L658.3,449.6L658.8,449.5L659.3,449.5L659.8,449.5L660.3,449.7L660.8,449.8L661.3,450.1L661.8,450.5L662.3,451.1L662.8,452.0L663.3,466.2L663.8,466.4L664.3,466.8L664.8,467.2L665.3,467.9L665.8,469.2L666.3,477.8L666.8,477.8L667.3,472.8L667.8,471.7L668.3,471.1L668.8,470.7L669.3,470.4L669.8,470.2L670.3,470.1L670.8,470.0L671.3,470.0L671.8,470.1L672.3,469.2L672.8,468.6L673.3,468.2L673.8,467.9L674.3,467.7L674.8,467.6L675.3,467.5L675.8,467.5L676.3,462.8L676.8,461.7L677.3,461.1L677.8,460.7L678.3,460.4L678.8,460.2L679.3,460.1L679.8,460.0L680.3,456.5L680.8,455.4L681.3,454.8L681.8,454.4L682.3,454.1L682.8,453.9L683.3,453.8L683.8,453.7L684.3,453.7L684.8,453.8L685.3,453.9L685.8,451.5L686.3,450.8L686.8,450.3L687.3,450.0L687.8,449.8L688.3,449.6L688.8,449.5L689.3,449.5L689.8,449.5L690.3,449.7L690.8,449.8L691.3,450.1L691.8,450.5L692.3,451.1L692.8,452.0L693.3,470.7L693.8,471.1L694.3,471.7L694.8,472.8L695.3,473.9L695.2,511.8L693.1,514.3L693.1,527.3Z" fill="#551d95"/>
<circle cx="626.6" cy="391.1" r="3.85" fill="#551d95"/>
<circle cx="642.0" cy="448.6" r="3.85" fill="#551d95"/>
<path d="M697.6,527.3L697.6,514.3L695.5,511.8L695.5,469.9L696.0,468.5L696.5,467.6L697.0,467.0L697.5,466.6L698.0,465.7L698.5,465.1L699.0,464.7L699.5,464.4L700.0,464.2L700.5,464.1L701.0,464.0L701.5,464.0L702.0,464.1L702.5,464.2L703.0,464.4L703.5,454.8L704.0,453.7L704.5,453.1L705.0,452.7L705.5,452.4L706.0,452.2L706.5,452.1L707.0,452.0L707.5,452.0L708.0,452.1L708.5,452.2L709.0,452.4L709.5,452.8L710.0,453.2L710.5,453.9L711.0,455.2L711.5,462.0L712.0,462.0L712.5,462.0L713.0,462.1L713.5,462.3L714.0,462.6L714.5,462.9L715.0,463.4L715.5,464.2L716.0,464.0L716.5,463.6L717.0,463.4L717.5,463.3L718.0,463.2L718.5,463.2L719.0,463.3L719.5,463.4L720.0,463.6L720.5,463.9L721.0,464.3L721.5,464.9L722.0,466.0L722.5,466.0L723.0,466.0L723.5,466.0L724.0,466.1L724.5,466.3L725.0,466.6L725.5,466.9L726.0,467.4L726.5,468.2L727.0,468.6L727.5,468.5L728.0,468.3L728.5,468.3L729.0,468.3L729.5,468.2L730.0,467.4L730.5,466.9L731.0,466.6L731.5,466.3L732.0,466.1L732.5,466.0L733.0,466.0L733.5,466.0L734.0,466.1L734.5,466.3L735.0,466.6L735.5,466.9L736.0,466.8L736.5,466.7L737.0,466.6L737.5,466.6L738.0,466.7L738.5,466.8L739.0,466.8L739.5,466.7L740.0,466.7L740.5,466.7L741.0,466.8L741.5,467.0L742.0,467.3L742.5,467.6L743.0,468.1L743.5,468.9L744.0,474.0L744.5,474.0L745.0,474.1L745.5,474.3L746.0,474.6L746.5,474.9L747.0,475.4L747.5,476.2L748.0,477.3L748.5,476.2L749.0,475.4L749.5,474.9L750.0,474.6L750.5,474.3L751.0,474.1L751.5,474.0L752.0,474.0L752.5,474.0L753.0,474.1L753.5,474.3L754.0,474.6L754.5,474.2L755.0,473.8L755.5,473.6L756.0,473.5L756.5,473.4L757.0,473.4L757.5,473.5L758.0,473.6L758.5,473.8L759.0,474.1L759.5,474.0L760.0,474.0L760.5,474.0L761.0,474.1L761.5,474.3L762.0,474.6L762.5,474.9L763.0,475.4L763.5,476.2L764.0,477.9L764.1,511.8L762.0,514.3L762.0,527.3Z" fill="#bc23fb"/>
<path d="M766.6,527.3L766.6,514.3L764.5,511.8L764.5,458.2L765.0,458.2L765.5,458.2L766.0,457.2L766.5,456.1L767.0,455.5L767.5,455.1L768.0,454.8L768.5,454.6L769.0,454.5L769.5,454.4L770.0,454.4L770.5,454.5L771.0,454.6L771.5,454.8L772.0,455.2L772.5,455.6L773.0,456.3L773.5,457.6L774.0,463.5L774.5,463.4L775.0,463.4L775.5,463.5L776.0,463.6L776.5,463.8L777.0,464.2L777.5,464.6L778.0,465.3L778.5,466.6L779.0,470.7L779.5,470.4L780.0,470.1L780.5,469.8L781.0,469.6L781.5,469.5L782.0,469.5L782.5,469.5L783.0,465.6L783.5,464.8L784.0,464.3L784.5,464.0L785.0,463.7L785.5,463.5L786.0,463.4L786.5,463.4L787.0,463.4L787.5,462.9L788.0,462.6L788.5,462.3L789.0,462.1L789.5,462.0L790.0,460.0L790.5,458.9L791.0,458.3L791.5,457.9L792.0,457.6L792.5,457.4L793.0,457.3L793.5,457.2L794.0,457.2L794.5,457.3L795.0,457.4L795.5,457.6L796.0,458.0L796.5,458.4L797.0,459.1L797.5,460.4L798.0,465.6L798.5,465.6L799.0,465.7L799.5,465.8L800.0,466.0L800.5,466.4L801.0,466.8L801.5,467.0L802.0,466.6L802.5,466.4L803.0,466.3L803.5,466.2L804.0,466.2L804.5,466.3L805.0,466.4L805.5,466.6L806.0,466.9L806.5,467.3L807.0,467.9L807.5,469.0L808.0,475.7L808.5,475.7L809.0,472.2L809.5,470.9L810.0,470.2L810.5,469.8L811.0,469.4L811.5,469.2L812.0,469.1L812.5,469.0L813.0,469.0L813.5,469.1L814.0,468.4L814.5,467.9L815.0,467.6L815.5,467.3L816.0,467.1L816.5,467.0L817.0,467.0L817.5,467.0L818.0,467.1L818.5,466.7L819.0,466.1L819.5,465.7L820.0,465.4L820.5,465.2L821.0,465.1L821.5,465.0L822.0,465.0L822.5,465.1L823.0,465.2L823.5,465.4L824.0,465.8L824.5,466.2L825.0,466.9L825.5,468.0L826.0,469.9L826.2,511.8L824.1,514.3L824.1,527.3Z" fill="#551d95"/>
<path d="M829.3,527.3L829.3,514.3L827.2,511.8L827.2,469.9L827.7,468.5L828.2,467.6L828.7,467.0L829.2,466.6L829.7,466.3L830.2,466.2L830.7,466.0L831.2,466.0L831.7,463.3L832.2,462.5L832.7,462.0L833.2,461.7L833.7,461.4L834.2,461.2L834.7,461.1L835.2,461.1L835.7,461.1L836.2,461.2L836.7,461.4L837.2,461.7L837.7,462.0L838.2,462.5L838.7,463.3L839.2,469.2L839.7,468.8L840.2,468.4L840.7,468.2L841.2,468.1L841.7,468.0L842.2,468.0L842.7,468.1L843.2,468.2L843.7,468.4L844.2,468.6L844.7,468.4L845.2,468.4L845.7,468.4L846.2,468.5L846.7,468.7L847.2,468.9L847.7,469.2L848.2,469.7L848.7,470.4L849.2,472.2L849.2,511.8L847.1,514.3L847.1,527.3Z" fill="#bc23fb"/>
<path d="M856.2,527.3L856.2,514.3L854.1,511.8L854.1,480.7L854.6,478.8L855.1,478.1L855.6,477.6L856.1,477.3L856.6,472.2L857.1,470.9L857.6,470.2L858.1,469.8L858.6,469.4L859.1,469.2L859.6,469.1L860.1,469.0L860.6,469.0L861.1,469.1L861.6,469.2L862.1,469.4L862.6,469.7L863.1,470.1L863.6,470.0L864.1,470.0L864.6,470.0L865.1,470.2L865.6,470.3L866.1,470.1L866.6,469.7L867.1,469.4L867.6,469.2L868.1,469.1L868.6,464.0L869.1,463.3L869.6,462.8L870.1,462.5L870.6,462.3L871.1,462.1L871.6,462.0L872.1,455.3L872.6,454.6L873.1,454.1L873.6,453.8L874.1,453.6L874.6,453.4L875.1,453.3L875.6,453.3L876.1,453.3L876.6,453.5L877.1,453.6L877.6,453.9L878.1,454.3L878.6,454.9L879.1,455.8L879.6,457.2L880.1,456.9L880.6,456.7L881.1,456.6L881.6,456.6L882.1,456.6L882.6,456.7L883.1,456.9L883.6,457.2L884.1,457.5L884.6,458.0L885.1,458.8L885.6,472.5L886.1,473.2L886.6,475.1L886.8,511.8L884.7,514.3L884.7,527.3Z" fill="#bc23fb"/>
<rect x="856.55" y="449.4" width="7.7" height="16.20" rx="3.85" fill="#bc23fb"/>
<path d="M889.9,527.3L889.9,514.3L887.8,511.8L887.8,477.2L888.3,475.9L888.8,475.0L889.3,474.4L889.8,474.0L890.3,473.7L890.8,462.1L891.3,460.8L891.8,460.1L892.3,459.7L892.8,459.3L893.3,459.1L893.8,459.0L894.3,458.9L894.8,458.9L895.3,459.0L895.8,459.1L896.3,459.3L896.8,459.6L897.3,460.0L897.8,460.6L898.3,461.7L898.8,462.4L899.3,462.8L899.8,463.2L900.3,462.8L900.8,461.7L901.3,461.1L901.8,460.7L902.3,460.4L902.8,460.2L903.3,460.1L903.8,456.9L904.3,456.0L904.8,455.4L905.3,455.0L905.8,454.7L906.3,454.6L906.8,454.4L907.3,454.4L907.8,454.4L908.3,454.5L908.8,452.7L909.3,451.6L909.8,451.0L910.3,450.6L910.8,450.3L911.3,450.1L911.8,450.0L912.3,449.9L912.8,449.9L913.3,450.0L913.8,450.1L914.3,450.3L914.8,450.7L915.3,451.1L915.8,451.8L916.3,453.1L916.8,465.7L917.3,465.4L917.8,465.2L918.3,465.1L918.8,465.0L919.3,465.0L919.8,465.1L920.3,465.2L920.8,465.3L921.3,464.9L921.8,464.7L922.3,464.6L922.8,464.5L923.3,464.5L923.8,464.6L924.3,464.7L924.8,464.9L925.3,465.2L925.8,465.6L926.3,466.2L926.8,467.3L927.3,468.2L927.8,468.4L928.3,468.8L928.8,469.2L929.3,468.8L929.8,467.7L930.3,467.1L930.8,466.7L931.3,466.4L931.8,466.2L932.3,466.1L932.8,466.0L933.3,466.0L933.8,464.7L934.3,464.0L934.8,463.6L935.3,463.2L935.8,463.0L936.3,462.9L936.8,462.8L937.3,462.8L937.8,462.9L938.3,463.0L938.8,463.2L939.3,463.5L939.8,463.9L940.3,464.5L940.8,465.1L941.3,465.0L941.8,465.0L942.3,465.1L942.8,465.2L943.3,465.4L943.8,465.7L944.3,466.1L944.8,466.7L945.3,467.8L945.8,468.9L945.7,511.8L943.6,514.3L943.6,527.3Z" fill="#551d95"/>
<path d="M948.6,527.3L948.6,514.3L946.5,511.8L946.5,475.1L947.0,473.7L947.5,472.8L948.0,472.2L948.5,471.8L949.0,471.5L949.5,471.4L950.0,471.2L950.5,471.2L951.0,464.4L951.5,463.6L952.0,463.1L952.5,462.8L953.0,462.5L953.5,462.3L954.0,462.2L954.5,462.2L955.0,462.2L955.5,462.3L956.0,462.5L956.5,462.3L957.0,462.1L957.5,462.0L958.0,462.0L958.5,462.0L959.0,462.1L959.5,461.8L960.0,461.4L960.5,461.0L961.0,460.8L961.5,460.7L962.0,460.6L962.5,460.6L963.0,460.7L963.5,460.8L964.0,461.0L964.5,461.3L965.0,461.7L965.5,462.3L966.0,463.4L966.5,468.1L967.0,467.9L967.5,467.8L968.0,467.8L968.5,467.8L969.0,468.0L969.5,459.8L970.0,459.1L970.5,458.6L971.0,458.3L971.5,458.1L972.0,457.9L972.5,457.8L973.0,457.8L973.5,457.8L974.0,458.0L974.5,458.1L975.0,458.4L975.5,458.8L976.0,459.4L976.5,460.3L977.0,466.1L977.5,466.3L978.0,466.6L978.5,466.9L979.0,467.4L979.5,468.2L980.0,471.4L980.5,470.9L981.0,470.6L981.5,470.3L982.0,470.1L982.5,470.0L983.0,470.0L983.5,470.0L984.0,446.5L984.5,445.7L985.0,445.2L985.5,444.9L986.0,444.6L986.5,444.4L987.0,444.3L987.5,444.3L988.0,444.3L988.5,444.4L989.0,444.6L989.5,444.9L990.0,445.2L990.5,445.7L991.0,446.5L991.5,468.3L992.0,468.6L992.5,468.9L993.0,469.4L993.5,469.2L994.0,468.4L994.5,467.9L995.0,467.6L995.5,467.3L996.0,467.1L996.5,466.4L997.0,465.7L997.5,465.3L998.0,464.9L998.5,464.7L999.0,464.6L999.5,464.5L1000.0,464.5L1000.5,464.6L1001.0,464.7L1001.5,464.9L1002.0,465.2L1002.5,465.6L1003.0,466.1L1003.5,466.7L1004.0,467.8L1004.5,468.9L1004.4,511.8L1002.3,514.3L1002.3,527.3Z" fill="#bc23fb"/>
<path d="M1007.4,527.3L1007.4,514.3L1005.3,511.8L1005.3,482.9L1005.8,481.5L1006.3,480.6L1006.8,480.0L1007.3,479.6L1007.8,479.3L1008.3,468.9L1008.8,468.1L1009.3,467.6L1009.8,467.3L1010.3,467.0L1010.8,466.8L1011.3,466.7L1011.8,466.7L1012.3,454.7L1012.8,454.0L1013.3,453.5L1013.8,453.2L1014.3,453.0L1014.8,452.8L1015.3,452.7L1015.8,452.7L1016.3,452.7L1016.8,452.9L1017.3,453.0L1017.8,453.3L1018.3,444.5L1018.8,443.7L1019.3,443.2L1019.8,442.9L1020.3,442.6L1020.8,442.4L1021.3,442.3L1021.8,442.3L1022.3,442.3L1022.8,442.4L1023.3,442.6L1023.8,442.9L1024.3,443.2L1024.8,443.7L1025.3,444.5L1025.8,462.1L1026.3,462.2L1026.8,462.4L1027.3,462.8L1027.8,463.2L1028.3,463.9L1028.8,465.2L1029.3,466.4L1029.8,466.6L1030.3,467.0L1030.8,467.4L1031.3,467.0L1031.8,466.6L1032.3,466.4L1032.8,466.3L1033.3,466.2L1033.8,466.2L1034.3,466.3L1034.8,466.4L1035.3,466.6L1035.8,466.7L1036.3,466.4L1036.8,466.2L1037.3,466.1L1037.8,466.0L1038.3,466.0L1038.8,466.1L1039.3,465.6L1039.8,465.2L1040.3,464.9L1040.8,464.7L1041.3,464.6L1041.8,464.5L1042.3,464.5L1042.8,464.6L1043.3,464.7L1043.8,464.7L1044.3,464.4L1044.8,464.2L1045.3,464.1L1045.8,464.0L1046.3,464.0L1046.8,464.1L1047.3,464.2L1047.8,463.3L1048.3,462.7L1048.8,462.3L1049.3,462.0L1049.8,461.9L1050.3,461.7L1050.8,461.7L1051.3,461.7L1051.8,461.8L1052.3,462.0L1052.8,462.2L1053.3,462.5L1053.8,463.0L1054.3,463.7L1054.8,466.0L1055.3,466.0L1055.8,466.1L1056.3,466.2L1056.8,466.4L1057.3,466.8L1057.8,467.2L1058.3,467.8L1058.8,467.8L1059.3,467.8L1059.8,467.9L1060.3,468.1L1060.8,468.3L1061.3,468.6L1061.8,469.1L1062.3,469.8L1062.8,471.7L1063.0,511.8L1060.9,514.3L1060.9,527.3Z" fill="#551d95"/>
<path d="M1066.1,527.3L1066.1,514.3L1064.0,511.8L1064.0,465.6L1064.5,464.9L1065.0,463.6L1065.5,462.9L1066.0,462.5L1066.5,462.1L1067.0,461.9L1067.5,461.8L1068.0,461.7L1068.5,461.7L1069.0,461.8L1069.5,461.9L1070.0,462.1L1070.5,462.3L1071.0,462.1L1071.5,462.0L1072.0,462.0L1072.5,462.0L1073.0,462.1L1073.5,462.3L1074.0,462.2L1074.5,461.8L1075.0,461.5L1075.5,461.3L1076.0,461.2L1076.5,461.1L1077.0,461.1L1077.5,461.2L1078.0,461.3L1078.5,461.5L1079.0,461.9L1079.5,462.3L1080.0,463.0L1080.5,464.0L1081.0,464.1L1081.5,464.3L1082.0,464.6L1082.5,464.9L1083.0,465.0L1083.5,465.0L1084.0,465.2L1084.5,465.3L1085.0,465.4L1085.5,464.9L1086.0,464.6L1086.5,464.3L1087.0,464.1L1087.5,464.0L1088.0,464.0L1088.5,464.0L1089.0,464.1L1089.5,463.5L1090.0,463.0L1090.5,462.7L1091.0,462.5L1091.5,462.3L1092.0,462.2L1092.5,462.2L1093.0,462.2L1093.5,462.4L1094.0,462.5L1094.5,462.8L1095.0,463.2L1095.5,463.8L1096.0,464.7L1096.5,473.0L1097.0,472.9L1097.5,472.9L1098.0,472.9L1098.5,473.1L1099.0,473.1L1099.5,473.0L1100.0,473.0L1100.5,473.0L1101.0,473.1L1101.5,473.3L1102.0,473.6L1102.5,473.6L1103.0,473.4L1103.5,473.4L1104.0,473.4L1104.5,473.5L1105.0,473.7L1105.5,473.9L1106.0,474.2L1106.5,474.7L1107.0,475.4L1107.5,477.2L1107.7,511.8L1105.6,514.3L1105.6,527.3Z" fill="#bc23fb"/>
<circle cx="1086.2" cy="457.5" r="3.85" fill="#bc23fb"/>
<path d="M1110.3,527.3L1110.3,514.3L1108.2,511.8L1108.2,474.0L1108.7,473.3L1109.2,472.0L1109.7,471.3L1110.2,470.9L1110.7,470.5L1111.2,470.3L1111.7,470.2L1112.2,470.1L1112.7,470.1L1113.2,470.2L1113.7,470.3L1114.2,470.5L1114.7,470.8L1115.2,471.2L1115.7,471.8L1116.2,472.9L1116.7,474.0L1117.2,473.7L1117.7,473.5L1118.2,472.2L1118.7,470.9L1119.2,470.2L1119.7,469.8L1120.2,469.4L1120.7,469.2L1121.2,469.1L1121.7,467.3L1122.2,466.2L1122.7,465.6L1123.2,465.2L1123.7,464.9L1124.2,464.7L1124.7,464.6L1125.2,464.5L1125.7,464.5L1126.2,464.6L1126.7,464.7L1127.2,464.9L1127.7,465.3L1128.2,461.4L1128.7,460.7L1129.2,460.2L1129.7,459.9L1130.2,459.7L1130.7,459.5L1131.2,459.4L1131.7,459.4L1132.2,459.4L1132.7,459.6L1133.2,459.7L1133.7,460.0L1134.2,460.4L1134.7,461.0L1135.2,461.0L1135.7,461.1L1136.2,461.0L1136.7,460.6L1137.2,460.3L1137.7,460.2L1138.2,460.0L1138.7,459.9L1139.2,459.7L1139.7,459.5L1140.2,459.4L1140.7,459.4L1141.2,459.4L1141.7,459.6L1142.2,459.7L1142.7,460.0L1143.2,460.4L1143.7,461.0L1144.2,461.9L1144.7,473.4L1145.2,473.5L1145.7,473.6L1146.2,473.8L1146.7,474.2L1147.2,474.6L1147.7,475.3L1148.2,476.6L1148.7,477.2L1148.5,511.8L1146.4,514.3L1146.4,527.3Z" fill="#551d95"/>
<path d="M1152.5,527.3L1152.5,514.3L1150.4,511.8L1150.4,471.7L1150.9,471.7L1151.4,471.7L1151.9,471.0L1152.4,469.7L1152.9,469.0L1153.4,468.6L1153.9,468.2L1154.4,468.0L1154.9,467.9L1155.4,467.8L1155.9,467.8L1156.4,467.9L1156.9,467.6L1157.4,467.0L1157.9,466.6L1158.4,466.3L1158.9,466.2L1159.4,466.0L1159.9,466.0L1160.4,466.0L1160.9,466.1L1161.4,466.3L1161.9,465.3L1162.4,464.6L1162.9,464.2L1163.4,463.8L1163.9,463.6L1164.4,463.5L1164.9,463.4L1165.4,463.4L1165.9,463.5L1166.4,463.6L1166.9,463.8L1167.4,464.1L1167.9,462.8L1168.4,462.0L1168.9,461.5L1169.4,461.2L1169.9,460.9L1170.4,460.7L1170.9,460.6L1171.4,460.6L1171.9,460.6L1172.4,460.7L1172.9,460.9L1173.4,461.2L1173.9,461.5L1174.4,462.0L1174.9,462.8L1175.4,466.0L1175.9,466.4L1176.4,466.8L1176.9,467.0L1177.4,467.0L1177.9,467.1L1178.4,467.3L1178.9,467.5L1179.4,467.8L1179.9,468.3L1180.4,468.4L1180.9,468.4L1181.4,468.6L1181.9,468.7L1182.4,469.0L1182.9,469.4L1183.4,470.0L1183.9,470.9L1184.4,472.6L1184.9,472.9L1185.4,473.3L1185.9,473.9L1186.4,474.8L1186.9,476.2L1186.9,511.8L1184.8,514.3L1184.8,527.3Z" fill="#bc23fb"/>
<circle cx="1156.2" cy="461.7" r="3.85" fill="#bc23fb"/>
<circle cx="1178.1" cy="455.0" r="3.85" fill="#bc23fb"/>
<path d="M1190.0,527.3L1190.0,514.3L1187.9,511.8L1187.9,474.0L1188.4,474.0L1188.9,474.0L1189.4,474.0L1189.9,473.3L1190.4,472.0L1190.9,471.3L1191.4,470.9L1191.9,470.5L1192.4,470.3L1192.9,470.2L1193.4,470.1L1193.9,470.1L1194.4,470.2L1194.9,470.3L1195.4,470.5L1195.9,470.8L1196.4,471.2L1196.9,470.9L1197.4,470.4L1197.9,470.1L1198.4,469.8L1198.9,469.6L1199.4,469.5L1199.9,469.5L1200.4,469.5L1200.9,469.6L1201.4,469.8L1201.9,470.1L1202.4,470.4L1202.9,470.9L1203.4,471.7L1203.9,478.0L1204.4,477.9L1204.9,477.9L1205.4,475.6L1205.9,474.8L1206.4,474.3L1206.9,474.0L1207.4,473.7L1207.9,473.5L1208.4,473.4L1208.9,473.4L1209.4,473.4L1209.9,473.5L1210.4,473.7L1210.9,473.1L1211.4,472.2L1211.9,471.6L1212.4,471.2L1212.9,470.9L1213.4,470.8L1213.9,470.6L1214.4,470.6L1214.9,470.6L1215.4,470.7L1215.9,470.9L1216.4,471.1L1216.9,471.4L1217.4,471.9L1217.9,472.6L1218.4,475.1L1218.9,475.1L1219.4,468.9L1219.9,468.1L1220.4,467.6L1220.9,467.3L1221.4,467.0L1221.9,466.8L1222.4,466.7L1222.9,466.7L1223.4,466.7L1223.9,466.8L1224.4,467.0L1224.9,467.3L1225.4,467.6L1225.9,468.1L1226.4,468.5L1226.9,468.6L1227.4,468.8L1227.9,469.2L1228.4,469.6L1228.9,470.3L1229.4,471.6L1229.9,472.2L1229.7,511.8L1227.6,514.3L1227.6,527.3Z" fill="#551d95"/>
<path d="M1232.6,527.3L1232.6,514.3L1230.5,511.8L1230.5,476.2L1231.0,474.8L1231.5,473.9L1232.0,473.3L1232.5,472.9L1233.0,472.6L1233.5,472.5L1234.0,472.3L1234.5,472.3L1235.0,472.3L1235.5,455.2L1236.0,454.3L1236.5,453.7L1237.0,453.3L1237.5,453.0L1238.0,452.9L1238.5,452.7L1239.0,452.7L1239.5,452.7L1240.0,452.8L1240.5,453.0L1241.0,453.2L1241.5,453.5L1242.0,454.0L1242.5,454.7L1243.0,460.2L1243.5,459.8L1244.0,459.6L1244.5,459.5L1245.0,459.4L1245.5,459.4L1246.0,459.5L1246.5,459.6L1247.0,459.8L1247.5,460.1L1248.0,460.1L1248.5,459.4L1249.0,458.6L1249.5,458.1L1250.0,457.8L1250.5,457.5L1251.0,457.3L1251.5,457.2L1252.0,457.2L1252.5,457.2L1253.0,457.3L1253.5,457.5L1254.0,457.8L1254.5,458.1L1255.0,458.6L1255.5,459.4L1256.0,462.0L1256.5,462.0L1257.0,462.1L1257.5,462.3L1258.0,454.9L1258.5,454.1L1259.0,453.6L1259.5,453.3L1260.0,453.0L1260.5,452.8L1261.0,452.7L1261.5,452.7L1262.0,452.7L1262.5,452.8L1263.0,453.0L1263.5,453.3L1264.0,453.6L1264.5,454.1L1265.0,454.9L1265.5,473.4L1266.0,473.4L1266.5,473.6L1267.0,473.7L1267.5,474.0L1268.0,474.4L1268.5,475.0L1269.0,475.9L1269.5,477.2L1270.0,477.2L1269.8,511.8L1267.7,514.3L1267.7,527.3Z" fill="#bc23fb"/>
<circle cx="1252.0" cy="451.6" r="3.85" fill="#bc23fb"/>
<path d="M1271.8,527.3L1271.8,514.3L1269.7,511.8L1269.7,477.2L1270.2,477.2L1270.7,475.9L1271.2,475.0L1271.7,474.4L1272.2,474.0L1272.7,473.7L1273.2,473.6L1273.7,473.4L1274.2,473.4L1274.7,473.4L1275.2,473.5L1275.7,473.7L1276.2,473.2L1276.7,472.8L1277.2,472.4L1277.7,472.2L1278.2,472.1L1278.7,472.0L1279.2,472.0L1279.7,472.1L1280.2,472.2L1280.7,472.4L1281.2,472.0L1281.7,471.5L1282.2,471.2L1282.7,470.9L1283.2,470.7L1283.7,470.6L1284.2,470.6L1284.7,470.6L1285.2,470.2L1285.7,469.8L1286.2,469.4L1286.7,469.2L1287.2,469.1L1287.7,469.0L1288.2,469.0L1288.7,469.1L1289.2,469.0L1289.7,468.5L1290.2,468.2L1290.7,468.0L1291.2,467.8L1291.7,467.7L1292.2,467.7L1292.7,467.7L1293.2,467.9L1293.7,468.0L1294.2,468.3L1294.7,468.2L1295.2,468.1L1295.7,439.3L1296.2,438.5L1296.7,438.0L1297.2,437.7L1297.7,437.4L1298.2,437.2L1298.7,437.1L1299.2,437.1L1299.7,437.1L1300.2,437.2L1300.7,437.4L1301.2,437.7L1301.7,438.0L1302.2,438.5L1302.7,439.3L1303.2,468.4L1303.7,468.4L1304.2,468.5L1304.7,468.6L1305.2,468.8L1305.7,469.1L1306.2,469.5L1306.7,470.1L1307.2,471.2L1307.7,472.2L1307.6,511.8L1305.5,514.3L1305.5,527.3Z" fill="#551d95"/>
<path d="M1310.5,527.3L1310.5,514.3L1308.4,511.8L1308.4,465.9L1308.9,464.5L1309.4,463.6L1309.9,463.0L1310.4,462.6L1310.9,462.3L1311.4,462.2L1311.9,458.4L1312.4,457.3L1312.9,456.7L1313.4,456.3L1313.9,456.0L1314.4,455.8L1314.9,455.7L1315.4,455.6L1315.9,455.6L1316.4,455.7L1316.9,455.8L1317.4,456.0L1317.9,456.4L1318.4,456.8L1318.9,457.5L1319.4,458.8L1319.9,466.1L1320.4,466.3L1320.9,466.5L1321.4,466.8L1321.9,467.3L1322.4,468.0L1322.9,471.3L1323.4,471.4L1323.9,471.5L1324.4,471.7L1324.9,472.0L1325.4,472.4L1325.9,473.0L1326.4,474.1L1326.9,473.6L1327.4,473.0L1327.9,472.6L1328.4,472.3L1328.9,472.2L1329.4,471.0L1329.9,470.3L1330.4,469.9L1330.9,469.5L1331.4,469.3L1331.9,469.2L1332.4,469.1L1332.9,469.1L1333.4,469.2L1333.9,469.3L1334.4,469.5L1334.9,469.8L1335.4,470.2L1335.9,470.8L1336.4,471.9L1336.9,473.0L1337.0,511.8L1334.9,514.3L1334.9,527.3Z" fill="#bc23fb"/>
<path d="M1339.9,527.3L1339.9,514.3L1337.8,511.8L1337.8,480.2L1338.3,480.2L1338.8,479.5L1339.3,478.2L1339.8,477.5L1340.3,477.1L1340.8,476.7L1341.3,476.5L1341.8,476.4L1342.3,476.3L1342.8,476.3L1343.3,476.4L1343.8,476.5L1344.3,476.7L1344.8,475.6L1345.3,474.8L1345.8,474.3L1346.3,474.0L1346.8,473.7L1347.3,473.5L1347.8,473.4L1348.3,473.4L1348.8,473.4L1349.3,470.8L1349.8,469.7L1350.3,469.1L1350.8,468.7L1351.3,468.4L1351.8,468.2L1352.3,468.1L1352.8,468.0L1353.3,468.0L1353.8,468.1L1354.3,468.2L1354.8,463.5L1355.3,462.7L1355.8,462.2L1356.3,461.9L1356.8,461.6L1357.3,461.4L1357.8,461.3L1358.3,461.3L1358.8,461.3L1359.3,461.4L1359.8,461.6L1360.3,461.9L1360.8,462.2L1361.3,462.7L1361.8,463.5L1362.3,468.2L1362.8,468.4L1363.3,468.8L1363.8,469.2L1364.3,469.9L1364.8,470.7L1365.3,470.8L1365.8,471.0L1366.3,471.4L1366.8,471.8L1367.3,472.5L1367.8,473.8L1368.3,478.7L1368.8,479.3L1369.3,480.2L1369.8,481.6L1369.8,511.8L1367.7,514.3L1367.7,527.3Z" fill="#551d95"/>
<path d="M1373.2,527.3L1373.2,514.3L1371.1,511.8L1371.1,477.2L1371.6,476.6L1372.1,475.3L1372.6,474.6L1373.1,474.2L1373.6,473.8L1374.1,473.6L1374.6,473.5L1375.1,473.4L1375.6,473.4L1376.1,467.8L1376.6,467.0L1377.1,466.5L1377.6,466.2L1378.1,465.9L1378.6,465.7L1379.1,465.6L1379.6,465.6L1380.1,465.6L1380.6,465.7L1381.1,465.9L1381.6,466.2L1382.1,466.5L1382.6,467.0L1383.1,467.8L1383.6,470.0L1384.1,470.2L1384.6,470.3L1385.1,470.6L1385.6,471.0L1386.1,471.3L1386.6,471.3L1387.1,471.3L1387.6,471.4L1388.1,471.6L1388.6,471.8L1389.1,472.1L1389.6,472.6L1390.1,473.3L1390.6,475.2L1390.8,511.8L1388.7,514.3L1388.7,527.3Z" fill="#bc23fb"/>
<path d="M1394.5,527.3L1394.5,514.3L1392.4,511.8L1392.4,477.2L1392.9,475.9L1393.4,475.0L1393.9,474.4L1394.4,474.0L1394.9,473.7L1395.4,473.6L1395.9,473.4L1396.4,473.4L1396.9,473.4L1397.4,472.4L1397.9,471.5L1398.4,470.9L1398.9,470.5L1399.4,470.2L1399.9,470.1L1400.4,469.9L1400.9,469.9L1401.4,469.9L1401.9,470.0L1402.4,470.2L1402.9,470.4L1403.4,470.7L1403.9,471.2L1404.4,471.4L1404.9,471.0L1405.4,470.8L1405.9,470.7L1406.4,470.6L1406.9,470.6L1407.4,470.7L1407.9,470.8L1408.4,471.0L1408.9,471.3L1409.4,471.7L1409.9,472.3L1410.4,473.4L1410.9,480.8L1411.4,481.9L1411.9,483.0L1411.8,511.8L1409.7,514.3L1409.7,527.3Z" fill="#551d95"/>
<circle cx="1395.3" cy="466.3" r="3.85" fill="#551d95"/>
<path d="M1415.2,527.3L1415.2,514.3L1413.1,511.8L1413.1,475.9L1413.6,475.9L1414.1,475.9L1414.6,474.2L1415.1,473.4L1415.6,472.9L1416.1,472.6L1416.6,472.3L1417.1,472.1L1417.6,472.0L1418.1,472.0L1418.6,470.0L1419.1,469.3L1419.6,468.8L1420.1,468.5L1420.6,468.3L1421.1,468.1L1421.6,468.0L1422.1,464.5L1422.6,463.2L1423.1,462.5L1423.6,462.1L1424.1,461.7L1424.6,461.5L1425.1,461.4L1425.6,461.3L1426.1,461.3L1426.6,461.4L1427.1,461.5L1427.6,461.7L1428.1,462.0L1428.6,462.4L1429.1,463.0L1429.6,463.6L1430.1,463.5L1430.6,463.4L1431.1,463.4L1431.6,463.5L1432.1,463.6L1432.6,463.8L1433.1,464.1L1433.6,464.5L1434.1,465.1L1434.6,466.2L1435.1,470.0L1435.6,469.9L1436.1,469.9L1436.6,470.0L1437.1,470.1L1437.6,470.3L1438.1,470.6L1438.6,471.0L1439.1,471.6L1439.6,472.7L1440.1,473.5L1440.6,473.4L1441.1,473.4L1441.6,472.0L1442.1,471.3L1442.6,470.8L1443.1,470.5L1443.6,470.3L1444.1,470.1L1444.6,470.0L1445.1,470.0L1445.6,469.3L1446.1,468.7L1446.6,468.3L1447.1,468.0L1447.6,467.9L1448.1,467.7L1448.6,467.7L1449.1,467.7L1449.6,467.8L1450.1,468.0L1450.6,468.2L1451.1,468.5L1451.6,469.0L1452.1,469.7L1452.6,472.0L1453.1,472.2L1453.6,472.3L1454.1,472.6L1454.6,473.0L1455.1,473.6L1455.6,474.5L1456.1,475.6L1456.6,475.8L1457.1,476.1L1457.6,476.4L1458.1,476.9L1458.6,477.0L1459.1,477.2L1459.6,477.3L1460.1,477.6L1460.6,477.3L1461.1,477.2L1461.6,477.0L1462.1,477.0L1462.6,477.0L1463.1,476.3L1463.6,475.8L1464.1,475.5L1464.6,475.3L1465.1,475.1L1465.6,475.0L1466.1,475.0L1466.6,474.5L1467.1,474.1L1467.6,473.8L1468.1,473.6L1468.6,473.5L1469.1,473.4L1469.6,473.4L1470.1,473.5L1470.6,473.6L1471.1,473.8L1471.6,474.2L1472.1,474.6L1472.6,475.3L1473.1,475.9L1473.6,475.7L1474.1,475.6L1474.6,475.5L1475.1,475.5L1475.6,475.6L1476.1,475.7L1476.6,475.9L1477.1,476.2L1477.6,476.6L1478.1,477.2L1478.6,478.3L1479.1,479.4L1479.0,511.8L1476.9,514.3L1476.9,527.3Z" fill="#bc23fb"/>
<rect x="1422.05" y="446.4" width="7.7" height="12.80" rx="3.85" fill="#bc23fb"/>
<path d="M182.5,779.6L182.5,766.6L180.4,764.1L180.4,732.4L180.9,731.0L181.4,730.1L181.9,729.5L182.4,729.1L182.9,728.8L183.4,726.5L183.9,725.6L184.4,725.0L184.9,724.6L185.4,724.3L185.9,724.2L186.4,724.0L186.9,724.0L187.4,724.0L187.9,724.1L188.4,721.0L188.9,720.3L189.4,719.8L189.9,719.5L190.4,719.3L190.9,719.1L191.4,719.0L191.9,718.6L192.4,717.9L192.9,717.5L193.4,717.1L193.9,716.9L194.4,716.8L194.9,716.7L195.4,716.7L195.9,716.8L196.4,716.9L196.9,717.1L197.4,717.4L197.9,717.8L198.4,718.4L198.9,719.5L199.4,722.3L199.9,722.5L200.4,722.8L200.9,723.3L201.4,724.0L201.9,725.6L202.4,725.0L202.9,724.6L203.4,724.3L203.9,724.2L204.4,724.0L204.9,722.9L205.4,721.8L205.9,721.2L206.4,720.8L206.9,720.5L207.4,720.3L207.9,720.2L208.4,720.1L208.9,720.1L209.4,720.2L209.9,720.3L210.4,718.8L210.9,717.5L211.4,716.8L211.9,716.4L212.4,716.0L212.9,715.8L213.4,715.7L213.9,715.6L214.4,710.0L214.9,708.9L215.4,708.3L215.9,707.9L216.4,707.6L216.9,707.4L217.4,707.3L217.9,707.2L218.4,707.2L218.9,707.3L219.4,707.4L219.9,707.6L220.4,708.0L220.9,708.4L221.4,709.1L221.9,710.4L222.4,719.5L222.9,719.6L223.4,719.8L223.9,720.0L224.4,720.3L224.9,720.8L225.4,721.0L225.9,721.0L226.4,721.0L226.9,721.1L227.4,721.3L227.9,721.4L228.4,721.3L228.9,721.2L229.4,721.2L229.9,721.3L230.4,721.4L230.9,721.6L231.4,721.9L231.9,722.3L232.4,722.8L232.9,723.8L233.1,764.1L231.0,766.6L231.0,779.6Z" fill="#f08c24"/>
<circle cx="185.6" cy="715.0" r="3.85" fill="#f08c24"/>
<path d="M238.1,779.6L238.1,766.6L236.0,764.1L236.0,731.8L236.5,731.8L237.0,730.1L237.5,729.3L238.0,728.8L238.5,728.5L239.0,728.2L239.5,728.0L240.0,727.9L240.5,727.9L241.0,727.9L241.5,728.0L242.0,728.2L242.5,728.5L243.0,728.5L243.5,727.4L244.0,726.8L244.5,726.4L245.0,726.1L245.5,725.9L246.0,725.8L246.5,725.7L247.0,725.7L247.5,725.8L248.0,725.9L248.5,726.1L249.0,726.5L249.5,726.9L250.0,727.6L250.5,728.9L251.0,729.1L251.5,729.3L252.0,729.6L252.5,727.2L253.0,726.4L253.5,725.9L254.0,725.6L254.5,725.3L255.0,725.1L255.5,725.0L256.0,721.2L256.5,720.4L257.0,719.9L257.5,719.6L258.0,719.3L258.5,719.1L259.0,719.0L259.5,719.0L260.0,719.0L260.5,719.1L261.0,719.3L261.5,719.6L262.0,719.9L262.5,720.4L263.0,721.2L263.5,723.4L264.0,723.4L264.5,723.5L265.0,723.7L265.5,724.0L266.0,724.1L266.5,724.0L267.0,724.0L267.5,724.0L268.0,724.1L268.5,724.3L269.0,724.2L269.5,724.1L270.0,722.2L270.5,721.4L271.0,720.9L271.5,720.6L272.0,720.3L272.5,720.1L273.0,720.0L273.5,714.8L274.0,714.1L274.5,713.6L275.0,713.3L275.5,713.1L276.0,712.9L276.5,712.8L277.0,712.8L277.5,712.8L278.0,713.0L278.5,713.1L279.0,713.4L279.5,713.8L280.0,714.4L280.5,715.3L281.0,719.0L281.5,719.6L282.0,720.5L282.5,721.9L282.5,764.1L280.4,766.6L280.4,779.6Z" fill="#f08c24"/>
<rect x="237.25" y="709.4" width="7.7" height="9.00" rx="3.85" fill="#f08c24"/>
<rect x="272.45" y="698.2" width="7.7" height="11.80" rx="3.85" fill="#f08c24"/>
<rect x="261.25" y="706.8" width="7.7" height="7.60" rx="3.85" fill="#f08c24"/>
<path d="M284.8,779.6L284.8,766.6L282.7,764.1L282.7,718.9L283.2,718.2L283.7,716.9L284.2,716.2L284.7,715.8L285.2,715.4L285.7,715.2L286.2,715.1L286.7,715.0L287.2,715.0L287.7,715.1L288.2,710.4L288.7,709.1L289.2,708.4L289.7,708.0L290.2,707.6L290.7,707.4L291.2,707.3L291.7,707.2L292.2,707.2L292.7,707.3L293.2,707.4L293.7,707.6L294.2,707.9L294.7,708.3L295.2,708.9L295.7,710.0L296.2,716.0L296.7,716.1L297.2,716.2L297.7,716.4L298.2,716.7L298.7,717.1L299.2,717.7L299.7,718.4L300.2,718.5L300.7,718.7L301.2,718.9L301.7,717.9L302.2,717.2L302.7,716.8L303.2,716.4L303.7,716.2L304.2,716.1L304.7,716.0L305.2,716.0L305.7,716.1L306.2,714.0L306.7,713.3L307.2,712.8L307.7,712.5L308.2,712.3L308.7,712.1L309.2,712.0L309.7,712.0L310.2,712.0L310.7,712.2L311.2,712.3L311.7,712.6L312.2,713.0L312.7,713.6L313.2,714.5L313.7,715.6L314.2,715.6L314.7,715.7L315.2,715.9L315.7,716.1L316.2,716.4L316.7,716.9L317.2,717.6L317.7,723.4L318.2,723.4L318.7,723.4L319.2,723.5L319.7,671.8L320.2,671.0L320.7,670.5L321.2,670.2L321.7,669.9L322.2,669.7L322.7,669.6L323.2,669.6L323.7,669.6L324.2,669.7L324.7,669.9L325.2,670.2L325.7,670.5L326.2,671.0L326.7,671.8L327.2,724.1L327.7,724.0L328.2,724.0L328.7,724.1L329.2,724.2L329.7,724.4L330.2,724.7L330.7,725.1L331.2,725.7L331.7,726.8L332.2,726.9L332.7,726.8L333.2,724.9L333.7,724.0L334.2,723.4L334.7,723.0L335.2,722.7L335.7,722.6L336.2,722.4L336.7,722.4L337.2,722.4L337.7,722.5L338.2,722.7L338.7,722.9L339.2,723.2L339.7,722.8L340.2,722.4L340.7,722.2L341.2,722.1L341.7,722.0L342.2,722.0L342.7,722.1L343.2,722.2L343.7,722.4L344.2,722.7L344.7,722.7L345.2,722.0L345.7,721.6L346.2,721.2L346.7,721.0L347.2,720.9L347.7,720.8L348.2,720.8L348.7,720.9L349.2,721.0L349.7,721.2L350.2,721.5L350.7,721.9L351.2,722.5L351.7,723.6L352.2,723.9L352.7,723.6L353.2,723.4L353.7,723.3L354.2,723.2L354.7,723.2L355.2,723.3L355.7,723.4L356.2,723.6L356.7,724.0L357.2,724.4L357.7,725.1L358.2,726.4L358.7,731.8L359.2,731.5L359.7,731.4L360.2,731.2L360.7,731.2L361.2,731.2L361.7,731.3L362.2,721.2L362.7,720.5L363.2,720.0L363.7,719.7L364.2,719.5L364.7,719.3L365.2,719.2L365.7,719.2L366.2,719.2L366.7,718.8L367.2,718.4L367.7,718.2L368.2,718.1L368.7,718.0L369.2,713.7L369.7,712.8L370.2,712.2L370.7,711.8L371.2,711.5L371.7,711.4L372.2,711.2L372.7,711.2L373.2,711.2L373.7,711.3L374.2,711.5L374.7,711.7L375.2,712.0L375.7,712.5L376.2,713.2L376.7,717.0L377.2,716.9L377.7,716.8L378.2,716.8L378.7,716.9L379.2,717.0L379.7,717.2L380.2,717.6L380.7,718.0L381.2,718.7L381.7,720.0L382.2,720.6L382.0,764.1L379.9,766.6L379.9,779.6Z" fill="#8e4c17"/>
<circle cx="323.2" cy="658.4" r="3.85" fill="#8e4c17"/>
<path d="M384.4,779.6L384.4,766.6L382.3,764.1L382.3,727.9L382.8,727.9L383.3,727.9L383.8,727.9L384.3,726.8L384.8,725.7L385.3,725.1L385.8,724.7L386.3,724.4L386.8,724.2L387.3,724.1L387.8,724.0L388.3,723.8L388.8,722.7L389.3,722.1L389.8,721.7L390.3,721.4L390.8,721.2L391.3,721.1L391.8,721.0L392.3,721.0L392.8,720.1L393.3,719.5L393.8,719.1L394.3,718.8L394.8,718.6L395.3,718.5L395.8,718.4L396.3,718.4L396.8,717.7L397.3,717.1L397.8,716.7L398.3,716.4L398.8,716.2L399.3,716.1L399.8,716.0L400.3,716.0L400.8,716.1L401.3,715.8L401.8,715.0L402.3,714.5L402.8,714.2L403.3,713.9L403.8,713.7L404.3,713.6L404.8,713.6L405.3,713.6L405.8,713.7L406.3,713.9L406.8,714.2L407.3,714.5L407.8,715.0L408.3,715.8L408.8,716.0L409.3,716.0L409.8,716.1L410.3,716.2L410.8,716.4L411.3,716.8L411.8,717.2L412.3,717.0L412.8,716.9L413.3,716.8L413.8,716.8L414.3,716.9L414.8,717.0L415.3,717.2L415.8,717.5L416.3,717.9L416.8,718.5L417.3,719.6L417.8,720.1L418.3,720.2L418.8,720.4L419.3,720.8L419.8,721.2L420.3,721.9L420.8,723.2L421.3,723.2L421.8,723.2L422.3,723.3L422.8,723.4L423.3,722.8L423.8,721.7L424.3,721.1L424.8,720.7L425.3,720.4L425.8,720.2L426.3,720.1L426.8,720.0L427.3,720.0L427.8,720.1L428.3,720.2L428.8,720.4L429.3,717.4L429.8,716.6L430.3,716.1L430.8,715.8L431.3,715.5L431.8,715.3L432.3,715.2L432.8,715.2L433.3,715.2L433.8,715.3L434.3,715.5L434.8,715.8L435.3,716.1L435.8,716.6L436.3,717.0L436.8,717.1L437.3,717.2L437.8,717.4L438.3,717.8L438.8,718.2L439.3,717.9L439.8,717.7L440.3,717.6L440.8,717.6L441.3,717.6L441.8,717.7L442.3,717.4L442.8,717.2L443.3,717.1L443.8,717.0L444.3,717.0L444.8,716.9L445.3,716.6L445.8,716.3L446.3,716.1L446.8,716.0L447.3,716.0L447.8,716.0L448.3,716.1L448.8,716.3L449.3,716.6L449.8,716.9L450.3,717.4L450.8,718.2L451.3,718.1L451.8,718.0L452.3,718.0L452.8,718.1L453.3,718.2L453.8,718.4L454.3,718.8L454.8,719.2L455.3,719.9L455.8,720.5L456.3,720.2L456.8,719.9L457.3,719.7L457.8,719.6L458.3,719.6L458.8,719.6L459.3,719.7L459.8,719.9L460.3,720.0L460.8,720.0L461.3,720.1L461.8,720.3L462.3,720.5L462.8,720.8L463.3,721.3L463.8,722.0L464.3,723.9L464.5,764.1L462.4,766.6L462.4,779.6Z" fill="#f08c24"/>
<path d="M467.6,779.6L467.6,766.6L465.5,764.1L465.5,697.9L466.0,697.9L466.5,696.8L467.0,695.7L467.5,695.1L468.0,694.7L468.5,694.4L469.0,694.2L469.5,694.1L470.0,694.0L470.5,694.0L471.0,694.1L471.5,694.2L472.0,694.4L472.5,694.8L473.0,695.2L473.5,695.9L474.0,697.2L474.5,708.3L475.0,708.6L475.5,708.9L476.0,709.4L476.5,709.6L477.0,709.6L477.5,709.7L478.0,709.9L478.5,710.1L479.0,710.4L479.5,710.9L480.0,711.6L480.5,722.6L481.0,722.8L481.5,723.1L482.0,723.5L482.5,723.3L483.0,723.1L483.5,723.0L484.0,723.0L484.5,723.0L485.0,723.1L485.5,723.3L486.0,723.6L486.5,723.7L487.0,723.2L487.5,722.9L488.0,722.7L488.5,722.5L489.0,722.4L489.5,722.4L490.0,722.4L490.5,722.6L491.0,722.7L491.5,723.0L492.0,723.4L492.5,723.3L493.0,723.1L493.5,723.0L494.0,723.0L494.5,723.0L495.0,723.1L495.5,723.3L496.0,723.6L496.5,723.9L497.0,724.4L497.5,725.2L498.0,725.1L498.5,725.1L499.0,725.1L499.5,725.2L500.0,725.4L500.5,725.7L501.0,726.0L501.5,726.5L502.0,727.3L502.5,728.0L503.0,728.1L503.5,728.3L504.0,728.6L504.5,728.9L505.0,729.4L505.5,730.2L506.0,731.5L506.5,731.6L507.0,731.7L507.5,724.7L508.0,723.4L508.5,722.7L509.0,722.3L509.5,721.9L510.0,721.7L510.5,721.6L511.0,721.5L511.5,721.5L512.0,721.6L512.5,721.7L513.0,721.9L513.5,722.2L514.0,722.6L514.5,723.2L515.0,724.3L515.5,728.1L516.0,728.0L516.5,726.2L517.0,725.4L517.5,724.9L518.0,724.6L518.5,724.3L519.0,724.1L519.5,724.0L520.0,724.0L520.5,720.3L521.0,719.4L521.5,718.8L522.0,718.4L522.5,718.1L523.0,718.0L523.5,717.8L524.0,717.8L524.5,717.8L525.0,717.9L525.5,718.1L526.0,718.3L526.5,718.6L527.0,719.1L527.5,719.8L528.0,724.0L528.5,724.0L529.0,724.1L529.5,724.3L530.0,724.6L530.5,724.9L531.0,725.4L531.5,726.2L532.0,727.9L532.5,728.1L533.0,727.4L533.5,726.9L534.0,726.6L534.5,726.3L535.0,726.1L535.5,726.0L536.0,726.0L536.5,726.0L537.0,726.1L537.5,725.6L538.0,725.1L538.5,724.8L539.0,724.5L539.5,724.3L540.0,724.2L540.5,724.2L541.0,724.2L541.5,724.3L542.0,724.5L542.5,724.8L543.0,725.1L543.5,725.6L544.0,726.4L544.5,727.3L545.0,728.0L545.5,729.9L545.7,764.1L543.6,766.6L543.6,779.6Z" fill="#8e4c17"/>
<circle cx="480.6" cy="690.9" r="3.85" fill="#8e4c17"/>
<circle cx="489.4" cy="716.0" r="3.85" fill="#8e4c17"/>
<circle cx="538.7" cy="706.8" r="3.85" fill="#8e4c17"/>
<path d="M548.2,779.6L548.2,766.6L546.1,764.1L546.1,730.9L546.6,729.5L547.1,728.6L547.6,728.0L548.1,727.6L548.6,727.3L549.1,727.2L549.6,724.0L550.1,723.3L550.6,722.8L551.1,722.5L551.6,722.3L552.1,722.1L552.6,700.8L553.1,700.0L553.6,699.5L554.1,699.2L554.6,698.9L555.1,698.7L555.6,698.6L556.1,698.6L556.6,698.6L557.1,698.7L557.6,698.9L558.1,699.2L558.6,699.5L559.1,700.0L559.6,700.8L560.1,702.0L560.6,702.0L561.1,702.2L561.6,702.3L562.1,702.6L562.6,703.0L563.1,703.6L563.6,704.5L564.1,707.8L564.6,707.8L565.1,707.9L565.6,708.0L566.1,708.2L566.6,708.6L567.1,709.0L567.6,709.7L568.1,710.0L568.6,709.8L569.1,709.7L569.6,709.6L570.1,709.6L570.6,709.7L571.1,709.8L571.6,710.0L572.1,710.4L572.6,710.8L573.1,711.5L573.6,712.8L574.1,714.2L574.6,714.3L575.1,714.6L575.6,715.0L576.1,715.6L576.6,716.5L577.1,718.7L577.6,718.7L578.1,718.8L578.6,719.0L579.1,719.3L579.6,719.6L580.1,719.5L580.6,719.3L581.1,719.1L581.6,719.0L582.1,719.0L582.6,719.0L583.1,719.2L583.6,719.3L584.1,719.6L584.6,720.0L585.1,720.6L585.6,721.4L586.1,721.1L586.6,720.8L587.1,720.6L587.6,720.5L588.1,720.5L588.6,720.5L589.1,720.6L589.6,720.8L590.1,721.1L590.6,721.4L591.1,721.9L591.6,722.7L592.1,723.1L592.6,723.0L593.1,723.0L593.6,723.0L594.1,723.2L594.6,723.3L595.1,723.6L595.6,724.0L596.1,724.6L596.6,725.5L597.1,726.6L597.6,726.3L598.1,726.1L598.6,726.0L599.1,726.0L599.6,726.0L600.1,726.1L600.6,724.0L601.1,723.3L601.6,722.8L602.1,722.5L602.6,722.3L603.1,722.1L603.6,722.0L604.1,722.0L604.6,720.3L605.1,719.4L605.6,718.8L606.1,718.4L606.6,718.1L607.1,718.0L607.6,717.8L608.1,717.8L608.6,717.8L609.1,717.9L609.6,718.1L610.1,718.3L610.6,718.6L611.1,719.1L611.6,719.0L612.1,719.0L612.6,719.0L613.1,719.2L613.6,719.3L614.1,719.6L614.6,719.6L615.1,719.3L615.6,719.1L616.1,718.9L616.6,718.8L617.1,718.8L617.6,718.8L618.1,719.0L618.6,719.1L619.1,719.4L619.6,719.8L620.1,720.4L620.6,721.3L621.1,730.9L621.6,731.6L622.1,732.9L622.6,733.6L622.4,764.1L620.3,766.6L620.3,779.6Z" fill="#f08c24"/>
<circle cx="584.4" cy="712.3" r="3.85" fill="#f08c24"/>
<circle cx="558.8" cy="629.1" r="3.85" fill="#f08c24"/>
<circle cx="558.8" cy="654.7" r="3.85" fill="#f08c24"/>
<rect x="554.95" y="633.7" width="7.7" height="16.50" rx="3.85" fill="#f08c24"/>
<rect x="554.95" y="659.3" width="7.7" height="16.70" rx="3.85" fill="#f08c24"/>
<rect x="554.95" y="678.5" width="7.7" height="10.10" rx="3.85" fill="#f08c24"/>
<path d="M624.9,779.6L624.9,766.6L622.8,764.1L622.8,665.0L623.3,663.6L623.8,662.7L624.3,662.1L624.8,661.7L625.3,661.4L625.8,661.3L626.3,661.1L626.8,661.1L627.3,661.1L627.8,661.2L628.3,661.4L628.8,661.6L629.3,661.9L629.8,662.4L630.3,663.1L630.8,711.5L631.3,711.3L631.8,711.2L632.3,707.8L632.8,706.7L633.3,706.1L633.8,705.7L634.3,705.4L634.8,705.2L635.3,700.3L635.8,699.2L636.3,698.6L636.8,698.2L637.3,697.9L637.8,697.7L638.3,697.6L638.8,697.5L639.3,697.5L639.8,697.6L640.3,697.7L640.8,697.9L641.3,698.3L641.8,698.7L642.3,699.4L642.8,700.7L643.3,720.0L643.8,720.1L644.3,720.2L644.8,720.4L645.3,720.8L645.8,721.2L646.3,721.9L646.8,723.2L647.3,726.0L647.8,726.2L648.3,726.3L648.8,726.6L649.3,727.0L649.8,727.6L650.3,728.5L650.8,728.3L651.3,728.1L651.8,728.0L652.3,724.8L652.8,723.7L653.3,723.1L653.8,722.7L654.3,722.4L654.8,722.2L655.3,722.1L655.8,722.0L656.3,722.0L656.8,701.0L657.3,700.2L657.8,699.7L658.3,699.4L658.8,699.1L659.3,698.9L659.8,698.8L660.3,698.8L660.8,698.8L661.3,698.9L661.8,699.1L662.3,699.4L662.8,699.7L663.3,700.2L663.8,701.0L664.3,720.0L664.8,720.1L665.3,720.2L665.8,720.4L666.3,720.8L666.8,721.2L667.3,721.9L667.8,721.7L668.3,721.6L668.8,721.4L669.3,720.8L669.8,719.7L670.3,719.1L670.8,718.7L671.3,718.4L671.8,718.2L672.3,718.1L672.8,717.1L673.3,716.0L673.8,715.4L674.3,715.0L674.8,714.7L675.3,714.5L675.8,714.4L676.3,714.3L676.8,714.3L677.3,714.4L677.8,714.5L678.3,714.7L678.8,715.1L679.3,715.5L679.8,716.0L680.3,716.0L680.8,716.1L681.3,716.2L681.8,716.4L682.3,716.8L682.8,716.5L683.3,716.3L683.8,716.2L684.3,716.2L684.8,716.2L685.3,716.3L685.8,716.5L686.3,716.8L686.8,717.1L687.3,717.6L687.8,718.3L688.3,717.9L688.8,717.7L689.3,717.6L689.8,717.5L690.3,717.5L690.8,717.6L691.3,717.7L691.8,717.9L692.3,718.2L692.8,718.6L693.3,719.2L693.8,720.1L694.3,720.7L694.8,721.8L695.3,722.9L695.2,764.1L693.1,766.6L693.1,779.6Z" fill="#8e4c17"/>
<circle cx="626.5" cy="633.7" r="3.85" fill="#8e4c17"/>
<circle cx="688.8" cy="709.5" r="3.85" fill="#8e4c17"/>
<path d="M697.6,779.6L697.6,766.6L695.5,764.1L695.5,725.9L696.0,724.5L696.5,723.6L697.0,723.0L697.5,722.6L698.0,722.3L698.5,722.2L699.0,722.0L699.5,722.0L700.0,722.0L700.5,722.0L701.0,720.7L701.5,720.0L702.0,719.6L702.5,719.2L703.0,719.0L703.5,718.9L704.0,718.8L704.5,718.8L705.0,718.9L705.5,719.0L706.0,716.5L706.5,715.7L707.0,715.2L707.5,714.9L708.0,714.6L708.5,714.4L709.0,714.3L709.5,714.3L710.0,714.3L710.5,714.4L711.0,714.6L711.5,714.9L712.0,715.2L712.5,715.7L713.0,716.5L713.5,720.0L714.0,720.0L714.5,720.0L715.0,720.1L715.5,720.3L716.0,720.6L716.5,720.9L717.0,721.4L717.5,722.2L718.0,723.4L718.5,723.2L719.0,722.4L719.5,721.9L720.0,721.6L720.5,721.3L721.0,721.1L721.5,721.0L722.0,721.0L722.5,720.5L723.0,719.9L723.5,719.5L724.0,719.2L724.5,719.0L725.0,718.9L725.5,718.8L726.0,718.8L726.5,718.9L727.0,719.0L727.5,719.2L728.0,719.6L728.5,720.0L729.0,720.7L729.5,722.0L730.0,722.1L730.5,722.3L731.0,722.6L731.5,722.9L732.0,723.4L732.5,721.2L733.0,720.4L733.5,719.9L734.0,719.6L734.5,719.3L735.0,719.1L735.5,718.2L736.0,716.9L736.5,716.2L737.0,715.8L737.5,715.4L738.0,715.2L738.5,715.1L739.0,715.0L739.5,715.0L740.0,715.1L740.5,715.2L741.0,715.4L741.5,715.7L742.0,716.1L742.5,716.7L743.0,717.8L743.5,721.5L744.0,721.4L744.5,721.4L745.0,721.4L745.5,721.6L746.0,721.6L746.5,721.3L747.0,721.1L747.5,721.0L748.0,721.0L748.5,721.0L749.0,721.1L749.5,721.3L750.0,721.6L750.5,721.6L751.0,721.4L751.5,721.4L752.0,721.4L752.5,721.5L753.0,721.7L753.5,721.9L754.0,722.2L754.5,722.7L755.0,723.0L755.5,723.0L756.0,723.1L756.5,723.3L757.0,723.6L757.5,723.9L758.0,724.1L758.5,724.0L759.0,724.0L759.5,724.1L760.0,724.2L760.5,724.4L761.0,724.8L761.5,725.2L762.0,725.6L762.5,725.9L763.0,726.4L763.5,727.2L764.0,728.9L764.1,764.1L762.0,766.6L762.0,779.6Z" fill="#f08c24"/>
<circle cx="699.8" cy="714.3" r="3.85" fill="#f08c24"/>
<path d="M766.6,779.6L766.6,766.6L764.5,764.1L764.5,724.0L765.0,722.1L765.5,721.4L766.0,720.9L766.5,720.6L767.0,720.4L767.5,720.2L768.0,720.1L768.5,720.1L769.0,720.1L769.5,719.9L770.0,719.6L770.5,719.3L771.0,719.1L771.5,719.0L772.0,719.0L772.5,718.9L773.0,718.4L773.5,718.1L774.0,717.8L774.5,717.6L775.0,717.5L775.5,717.5L776.0,717.5L776.5,717.6L777.0,717.8L777.5,718.1L778.0,718.4L778.5,718.9L779.0,719.0L779.5,719.0L780.0,719.1L780.5,719.3L781.0,719.0L781.5,718.6L782.0,718.4L782.5,718.3L783.0,718.2L783.5,718.2L784.0,718.3L784.5,718.4L785.0,718.6L785.5,718.9L786.0,719.1L786.5,719.0L787.0,719.0L787.5,719.0L788.0,719.1L788.5,719.2L789.0,718.6L789.5,718.2L790.0,717.9L790.5,717.7L791.0,717.6L791.5,717.5L792.0,717.5L792.5,717.6L793.0,717.7L793.5,717.9L794.0,718.3L794.5,718.7L795.0,719.4L795.5,720.0L796.0,720.0L796.5,720.0L797.0,720.1L797.5,719.9L798.0,719.6L798.5,719.3L799.0,719.1L799.5,719.0L800.0,719.0L800.5,719.0L801.0,719.1L801.5,719.3L802.0,719.6L802.5,719.5L803.0,719.2L803.5,719.0L804.0,718.9L804.5,718.8L805.0,718.8L805.5,718.9L806.0,719.0L806.5,719.2L807.0,719.6L807.5,720.0L808.0,720.7L808.5,722.0L809.0,722.1L809.5,722.0L810.0,722.0L810.5,722.0L811.0,722.1L811.5,722.3L812.0,722.6L812.5,722.9L813.0,723.4L813.5,724.2L814.0,724.4L814.5,724.2L815.0,724.1L815.5,724.0L816.0,724.0L816.5,724.1L817.0,724.2L817.5,724.4L818.0,724.8L818.5,725.2L819.0,725.9L819.5,727.0L820.0,727.1L820.5,727.3L821.0,727.6L821.5,727.9L822.0,728.4L822.5,729.2L823.0,731.9L823.5,732.1L824.0,732.3L824.5,732.6L825.0,733.1L825.5,733.8L826.0,735.6L826.2,764.1L824.1,766.6L824.1,779.6Z" fill="#8e4c17"/>
<circle cx="799.5" cy="706.5" r="3.85" fill="#8e4c17"/>
<rect x="816.95" y="695.5" width="7.7" height="17.50" rx="3.85" fill="#8e4c17"/>
<path d="M829.3,779.6L829.3,766.6L827.2,764.1L827.2,723.9L827.7,722.5L828.2,721.6L828.7,721.0L829.2,720.6L829.7,720.3L830.2,720.2L830.7,720.0L831.2,720.0L831.7,719.5L832.2,718.8L832.7,718.3L833.2,718.0L833.7,717.8L834.2,717.6L834.7,717.5L835.2,717.5L835.7,717.5L836.2,717.7L836.7,717.8L837.2,718.1L837.7,718.5L838.2,719.0L838.7,718.8L839.2,718.3L839.7,718.0L840.2,717.8L840.7,717.6L841.2,717.5L841.7,717.5L842.2,717.5L842.7,717.7L843.2,717.8L843.7,718.1L844.2,718.5L844.7,719.1L845.2,720.0L845.7,721.4L846.2,721.5L846.7,721.6L847.2,721.9L847.7,722.2L848.2,722.7L848.7,723.4L849.2,725.2L849.2,764.1L847.1,766.6L847.1,779.6Z" fill="#f08c24"/>
<circle cx="844.8" cy="705.6" r="3.85" fill="#f08c24"/>
<path d="M856.2,779.6L856.2,766.6L854.1,764.1L854.1,724.6L854.6,722.8L855.1,722.1L855.6,721.6L856.1,721.3L856.6,721.0L857.1,720.9L857.6,720.8L858.1,720.8L858.6,720.9L859.1,721.0L859.6,721.0L860.1,721.0L860.6,721.0L861.1,721.2L861.6,721.3L862.1,721.6L862.6,721.5L863.1,721.4L863.6,721.4L864.1,721.4L864.6,721.5L865.1,721.3L865.6,720.8L866.1,720.5L866.6,720.3L867.1,720.1L867.6,720.0L868.1,720.0L868.6,720.0L869.1,720.2L869.6,719.6L870.1,719.1L870.6,718.8L871.1,718.5L871.6,718.3L872.1,718.2L872.6,718.2L873.1,718.2L873.6,718.3L874.1,718.5L874.6,718.8L875.1,719.1L875.6,719.6L876.1,720.1L876.6,720.0L877.1,720.0L877.6,720.0L878.1,720.2L878.6,710.0L879.1,708.9L879.6,708.3L880.1,707.9L880.6,707.6L881.1,707.4L881.6,707.3L882.1,707.2L882.6,707.2L883.1,707.3L883.6,707.4L884.1,707.6L884.6,708.0L885.1,708.4L885.6,709.1L886.1,710.4L886.6,711.1L886.8,764.1L884.7,766.6L884.7,779.6Z" fill="#f08c24"/>
<rect x="866.15" y="700.1" width="7.7" height="7.70" rx="3.85" fill="#f08c24"/>
<path d="M889.9,779.6L889.9,766.6L887.8,764.1L887.8,716.2L888.3,716.2L888.8,716.2L889.3,714.4L889.8,713.7L890.3,713.2L890.8,712.9L891.3,712.7L891.8,712.5L892.3,712.4L892.8,712.4L893.3,712.4L893.8,712.6L894.3,712.7L894.8,713.0L895.3,713.4L895.8,702.7L896.3,702.0L896.8,701.5L897.3,701.2L897.8,701.0L898.3,700.8L898.8,700.7L899.3,700.7L899.8,700.7L900.3,700.9L900.8,701.0L901.3,701.3L901.8,701.7L902.3,702.3L902.8,703.2L903.3,719.4L903.8,719.2L904.3,719.1L904.8,719.0L905.3,718.7L905.8,717.8L906.3,717.2L906.8,716.8L907.3,716.5L907.8,716.4L908.3,716.2L908.8,715.7L909.3,715.1L909.8,714.7L910.3,714.4L910.8,714.2L911.3,714.1L911.8,714.0L912.3,713.8L912.8,713.3L913.3,713.0L913.8,712.7L914.3,712.5L914.8,712.4L915.3,712.4L915.8,712.4L916.3,712.5L916.8,712.7L917.3,713.0L917.8,713.3L918.3,713.8L918.8,714.6L919.3,718.1L919.8,718.2L920.3,718.4L920.8,718.8L921.3,719.2L921.8,719.9L922.3,721.2L922.8,720.7L923.3,720.1L923.8,719.7L924.3,719.4L924.8,719.2L925.3,719.1L925.8,719.0L926.3,719.0L926.8,718.7L927.3,718.1L927.8,717.7L928.3,717.4L928.8,717.2L929.3,717.1L929.8,717.0L930.3,717.0L930.8,717.1L931.3,716.9L931.8,716.6L932.3,716.4L932.8,716.3L933.3,716.2L933.8,716.2L934.3,716.3L934.8,716.4L935.3,716.6L935.8,717.0L936.3,717.4L936.8,718.1L937.3,719.4L937.8,722.1L938.3,722.2L938.8,722.4L939.3,722.8L939.8,723.2L940.3,723.9L940.8,725.1L941.3,725.0L941.8,725.0L942.3,725.1L942.8,725.2L943.3,725.4L943.8,725.7L944.3,726.1L944.8,726.7L945.3,727.8L945.8,728.9L945.7,764.1L943.6,766.6L943.6,779.6Z" fill="#8e4c17"/>
<circle cx="917.9" cy="705.9" r="3.85" fill="#8e4c17"/>
<path d="M948.6,779.6L948.6,766.6L946.5,764.1L946.5,725.2L947.0,723.9L947.5,723.0L948.0,722.4L948.5,722.0L949.0,721.7L949.5,721.6L950.0,721.4L950.5,710.0L951.0,708.9L951.5,708.3L952.0,707.9L952.5,707.6L953.0,707.4L953.5,707.3L954.0,707.2L954.5,707.2L955.0,707.3L955.5,707.4L956.0,707.6L956.5,708.0L957.0,708.4L957.5,709.1L958.0,710.4L958.5,720.3L959.0,720.6L959.5,720.9L960.0,721.4L960.5,722.2L961.0,722.4L961.5,721.9L962.0,721.6L962.5,721.3L963.0,721.1L963.5,721.0L964.0,721.0L964.5,721.0L965.0,719.1L965.5,718.3L966.0,717.8L966.5,717.5L967.0,717.2L967.5,717.0L968.0,716.9L968.5,716.9L969.0,716.9L969.5,717.0L970.0,717.2L970.5,717.5L971.0,717.8L971.5,718.3L972.0,719.1L972.5,721.4L973.0,721.4L973.5,721.2L974.0,720.4L974.5,719.9L975.0,719.6L975.5,719.3L976.0,719.1L976.5,719.0L977.0,719.0L977.5,719.0L978.0,719.1L978.5,718.8L979.0,718.3L979.5,718.0L980.0,717.8L980.5,717.6L981.0,717.5L981.5,717.5L982.0,717.5L982.5,717.7L983.0,717.8L983.5,718.1L984.0,718.5L984.5,718.1L985.0,717.8L985.5,717.7L986.0,717.5L986.5,717.5L987.0,717.5L987.5,717.6L988.0,717.8L988.5,718.0L989.0,718.3L989.5,718.8L990.0,719.5L990.5,721.0L991.0,721.1L991.5,721.3L992.0,721.6L992.5,721.9L993.0,722.0L993.5,722.0L994.0,722.1L994.5,721.7L995.0,721.4L995.5,721.1L996.0,720.9L996.5,720.8L997.0,720.8L997.5,720.8L998.0,720.9L998.5,721.1L999.0,721.4L999.5,721.7L1000.0,722.2L1000.5,723.0L1001.0,726.1L1001.5,726.2L1002.0,726.4L1002.5,726.7L1003.0,727.1L1003.5,727.7L1004.0,728.8L1004.5,729.9L1004.4,764.1L1002.3,766.6L1002.3,779.6Z" fill="#f08c24"/>
<circle cx="978.8" cy="705.0" r="3.85" fill="#f08c24"/>
<circle cx="997.0" cy="711.7" r="3.85" fill="#f08c24"/>
<path d="M1007.4,779.6L1007.4,766.6L1005.3,764.1L1005.3,726.6L1005.8,726.6L1006.3,726.6L1006.8,725.9L1007.3,724.6L1007.8,723.9L1008.3,723.5L1008.8,723.1L1009.3,722.9L1009.8,722.8L1010.3,722.7L1010.8,722.7L1011.3,717.5L1011.8,716.2L1012.3,715.5L1012.8,715.1L1013.3,714.7L1013.8,714.5L1014.3,714.4L1014.8,714.3L1015.3,714.3L1015.8,714.4L1016.3,714.5L1016.8,714.7L1017.3,715.0L1017.8,709.7L1018.3,708.4L1018.8,707.7L1019.3,707.3L1019.8,706.9L1020.3,706.7L1020.8,706.6L1021.3,706.5L1021.8,706.5L1022.3,706.6L1022.8,706.7L1023.3,706.9L1023.8,707.2L1024.3,707.6L1024.8,708.2L1025.3,709.3L1025.8,715.1L1026.3,715.2L1026.8,715.4L1027.3,715.8L1027.8,716.2L1028.3,716.9L1028.8,716.9L1029.3,716.9L1029.8,717.1L1030.3,717.2L1030.8,717.5L1031.3,717.9L1031.8,718.5L1032.3,719.4L1032.8,727.9L1033.3,726.8L1033.8,725.7L1034.3,725.1L1034.8,724.7L1035.3,724.4L1035.8,724.2L1036.3,724.1L1036.8,724.0L1037.3,724.0L1037.8,724.1L1038.3,724.2L1038.8,716.5L1039.3,715.7L1039.8,715.2L1040.3,714.9L1040.8,714.6L1041.3,714.4L1041.8,714.3L1042.3,714.3L1042.8,714.3L1043.3,714.4L1043.8,714.6L1044.3,714.9L1044.8,715.2L1045.3,715.7L1045.8,716.5L1046.3,719.1L1046.8,719.3L1047.3,719.6L1047.8,720.1L1048.3,720.8L1048.8,722.0L1049.3,722.0L1049.8,722.1L1050.3,722.2L1050.8,722.4L1051.3,722.8L1051.8,723.2L1052.3,723.9L1052.8,725.2L1053.3,725.4L1053.8,725.5L1054.3,725.7L1054.8,726.0L1055.3,726.1L1055.8,726.0L1056.3,726.0L1056.8,726.1L1057.3,726.2L1057.8,726.4L1058.3,726.8L1058.8,727.2L1059.3,727.9L1059.8,728.0L1060.3,728.2L1060.8,728.4L1061.3,728.7L1061.8,729.2L1062.3,729.9L1062.8,731.8L1063.0,764.1L1060.9,766.6L1060.9,779.6Z" fill="#8e4c17"/>
<rect x="1038.05" y="695.5" width="7.7" height="16.90" rx="3.85" fill="#8e4c17"/>
<path d="M1066.1,779.6L1066.1,766.6L1064.0,764.1L1064.0,731.8L1064.5,730.7L1065.0,729.6L1065.5,729.0L1066.0,728.6L1066.5,728.3L1067.0,728.1L1067.5,724.2L1068.0,723.4L1068.5,722.9L1069.0,722.6L1069.5,722.3L1070.0,722.1L1070.5,722.0L1071.0,721.3L1071.5,720.4L1072.0,719.8L1072.5,719.4L1073.0,719.1L1073.5,719.0L1074.0,718.8L1074.5,718.8L1075.0,718.8L1075.5,718.9L1076.0,718.4L1076.5,717.9L1077.0,717.6L1077.5,717.3L1078.0,717.1L1078.5,717.0L1079.0,717.0L1079.5,717.0L1080.0,717.1L1080.5,717.3L1081.0,717.3L1081.5,716.9L1082.0,716.6L1082.5,716.4L1083.0,716.3L1083.5,716.2L1084.0,716.2L1084.5,716.3L1085.0,716.4L1085.5,716.6L1086.0,717.0L1086.5,717.4L1087.0,718.1L1087.5,719.4L1088.0,724.1L1088.5,724.0L1089.0,724.0L1089.5,724.0L1090.0,724.2L1090.5,724.3L1091.0,724.1L1091.5,724.0L1092.0,724.0L1092.5,724.0L1093.0,724.1L1093.5,724.3L1094.0,724.6L1094.5,724.9L1095.0,725.4L1095.5,726.2L1096.0,725.4L1096.5,724.9L1097.0,724.6L1097.5,724.3L1098.0,724.1L1098.5,701.1L1099.0,700.0L1099.5,699.4L1100.0,699.0L1100.5,698.7L1101.0,698.5L1101.5,698.4L1102.0,698.3L1102.5,698.3L1103.0,698.4L1103.5,698.5L1104.0,698.7L1104.5,699.1L1105.0,699.5L1105.5,700.2L1106.0,701.5L1106.5,702.1L1107.0,702.1L1107.5,702.1L1107.7,764.1L1105.6,766.6L1105.6,779.6Z" fill="#f08c24"/>
<circle cx="1094.7" cy="719.5" r="3.85" fill="#f08c24"/>
<path d="M1110.3,779.6L1110.3,766.6L1108.2,764.1L1108.2,731.1L1108.7,729.7L1109.2,728.8L1109.7,728.2L1110.2,727.8L1110.7,727.5L1111.2,727.4L1111.7,727.2L1112.2,722.2L1112.7,721.3L1113.2,720.7L1113.7,720.3L1114.2,720.0L1114.7,719.9L1115.2,719.2L1115.7,718.8L1116.2,718.4L1116.7,718.2L1117.2,718.1L1117.7,718.0L1118.2,717.7L1118.7,716.6L1119.2,716.0L1119.7,715.6L1120.2,715.3L1120.7,715.1L1121.2,715.0L1121.7,714.9L1122.2,714.9L1122.7,715.0L1123.2,715.1L1123.7,715.3L1124.2,715.7L1124.7,716.1L1125.2,716.8L1125.7,718.1L1126.2,723.2L1126.7,722.8L1127.2,722.4L1127.7,722.2L1128.2,722.1L1128.7,722.0L1129.2,722.0L1129.7,722.1L1130.2,722.2L1130.7,722.4L1131.2,722.7L1131.7,722.9L1132.2,722.7L1132.7,722.5L1133.2,722.2L1133.7,720.9L1134.2,720.2L1134.7,719.8L1135.2,719.4L1135.7,719.2L1136.2,719.1L1136.7,719.0L1137.2,719.0L1137.7,718.4L1138.2,717.6L1138.7,717.1L1139.2,716.8L1139.7,716.5L1140.2,716.3L1140.7,716.2L1141.2,716.2L1141.7,716.2L1142.2,716.3L1142.7,716.5L1143.2,716.8L1143.7,717.1L1144.2,717.6L1144.7,718.4L1145.2,727.3L1145.7,727.4L1146.2,727.6L1146.7,728.0L1147.2,728.4L1147.7,729.1L1148.2,730.4L1148.7,731.1L1148.5,764.1L1146.4,766.6L1146.4,779.6Z" fill="#8e4c17"/>
<path d="M1152.5,779.6L1152.5,766.6L1150.4,764.1L1150.4,722.1L1150.9,722.1L1151.4,722.1L1151.9,721.1L1152.4,720.0L1152.9,719.4L1153.4,719.0L1153.9,718.7L1154.4,718.5L1154.9,718.4L1155.4,718.3L1155.9,718.3L1156.4,718.4L1156.9,717.6L1157.4,717.0L1157.9,716.6L1158.4,716.3L1158.9,716.2L1159.4,716.0L1159.9,716.0L1160.4,716.0L1160.9,716.1L1161.4,716.3L1161.9,715.9L1162.4,715.5L1162.9,715.2L1163.4,714.5L1163.9,713.6L1164.4,713.0L1164.9,712.6L1165.4,712.3L1165.9,712.2L1166.4,711.9L1166.9,711.0L1167.4,710.4L1167.9,710.0L1168.4,709.7L1168.9,709.6L1169.4,709.4L1169.9,709.4L1170.4,709.4L1170.9,709.5L1171.4,709.7L1171.9,709.9L1172.4,710.0L1172.9,710.0L1173.4,710.0L1173.9,710.1L1174.4,710.3L1174.9,710.5L1175.4,710.8L1175.9,710.9L1176.4,710.8L1176.9,710.8L1177.4,710.8L1177.9,711.0L1178.4,711.1L1178.9,711.4L1179.4,711.8L1179.9,712.4L1180.4,713.3L1180.9,716.1L1181.4,716.3L1181.9,716.5L1182.4,716.8L1182.9,717.3L1183.4,718.0L1183.9,724.8L1184.4,725.1L1184.9,725.5L1185.4,726.0L1185.9,726.6L1186.4,727.5L1186.9,728.9L1186.9,764.1L1184.8,766.6L1184.8,779.6Z" fill="#f08c24"/>
<circle cx="1155.6" cy="712.8" r="3.85" fill="#f08c24"/>
<path d="M1190.0,779.6L1190.0,766.6L1187.9,764.1L1187.9,726.2L1188.4,726.2L1188.9,726.2L1189.4,726.2L1189.9,724.4L1190.4,723.7L1190.9,723.2L1191.4,722.9L1191.9,722.7L1192.4,722.5L1192.9,722.4L1193.4,722.4L1193.9,721.6L1194.4,721.0L1194.9,720.6L1195.4,720.3L1195.9,720.2L1196.4,720.0L1196.9,720.0L1197.4,720.0L1197.9,720.1L1198.4,720.3L1198.9,720.2L1199.4,719.5L1199.9,719.1L1200.4,718.7L1200.9,718.5L1201.4,718.4L1201.9,718.3L1202.4,718.3L1202.9,718.4L1203.4,718.5L1203.9,718.7L1204.4,719.0L1204.9,719.4L1205.4,720.0L1205.9,720.0L1206.4,720.0L1206.9,717.8L1207.4,717.0L1207.9,716.5L1208.4,716.2L1208.9,715.9L1209.4,715.7L1209.9,715.6L1210.4,715.6L1210.9,715.6L1211.4,715.7L1211.9,715.9L1212.4,716.2L1212.9,716.5L1213.4,717.0L1213.9,717.8L1214.4,720.5L1214.9,720.4L1215.4,720.4L1215.9,720.5L1216.4,720.6L1216.9,720.8L1217.4,721.1L1217.9,721.5L1218.4,722.0L1218.9,722.0L1219.4,700.4L1219.9,699.7L1220.4,699.2L1220.9,698.9L1221.4,698.7L1221.9,698.5L1222.4,698.4L1222.9,698.4L1223.4,698.4L1223.9,698.6L1224.4,698.7L1224.9,699.0L1225.4,699.4L1225.9,700.0L1226.4,700.9L1226.9,730.2L1227.4,730.4L1227.9,730.8L1228.4,731.2L1228.9,731.9L1229.4,733.2L1229.9,733.9L1229.7,764.1L1227.6,766.6L1227.6,779.6Z" fill="#8e4c17"/>
<circle cx="1210.4" cy="691.6" r="3.85" fill="#8e4c17"/>
<circle cx="1222.8" cy="686.7" r="3.85" fill="#8e4c17"/>
<path d="M1232.6,779.6L1232.6,766.6L1230.5,764.1L1230.5,725.9L1231.0,724.5L1231.5,723.6L1232.0,723.0L1232.5,722.6L1233.0,722.3L1233.5,722.2L1234.0,722.0L1234.5,721.5L1235.0,721.1L1235.5,720.8L1236.0,720.6L1236.5,720.2L1237.0,719.4L1237.5,718.9L1238.0,718.6L1238.5,718.3L1239.0,718.1L1239.5,718.0L1240.0,718.0L1240.5,718.0L1241.0,717.6L1241.5,717.1L1242.0,716.8L1242.5,716.5L1243.0,716.3L1243.5,716.2L1244.0,716.2L1244.5,716.2L1245.0,716.3L1245.5,716.5L1246.0,716.8L1246.5,717.1L1247.0,717.6L1247.5,718.4L1248.0,719.1L1248.5,719.3L1249.0,719.6L1249.5,719.9L1250.0,720.4L1250.5,721.2L1251.0,722.4L1251.5,721.2L1252.0,720.4L1252.5,719.9L1253.0,719.6L1253.5,719.3L1254.0,719.1L1254.5,718.2L1255.0,717.4L1255.5,716.9L1256.0,716.6L1256.5,716.3L1257.0,716.1L1257.5,716.0L1258.0,716.0L1258.5,710.0L1259.0,709.3L1259.5,708.8L1260.0,708.5L1260.5,708.3L1261.0,708.1L1261.5,708.0L1262.0,708.0L1262.5,708.0L1263.0,708.2L1263.5,708.3L1264.0,708.6L1264.5,709.0L1265.0,709.6L1265.5,710.5L1266.0,726.0L1266.5,726.1L1267.0,726.2L1267.5,726.4L1268.0,726.8L1268.5,727.2L1269.0,727.9L1269.5,729.2L1270.0,729.9L1269.8,764.1L1267.7,766.6L1267.7,779.6Z" fill="#f08c24"/>
<circle cx="1254.3" cy="701.2" r="3.85" fill="#f08c24"/>
<circle cx="1254.3" cy="712.1" r="3.85" fill="#f08c24"/>
<path d="M1271.8,779.6L1271.8,766.6L1269.7,764.1L1269.7,713.2L1270.2,712.2L1270.7,711.1L1271.2,710.5L1271.7,710.1L1272.2,709.8L1272.7,709.6L1273.2,709.5L1273.7,709.4L1274.2,709.4L1274.7,709.5L1275.2,709.6L1275.7,709.8L1276.2,710.2L1276.7,710.6L1277.2,711.1L1277.7,711.0L1278.2,711.0L1278.7,711.1L1279.2,711.2L1279.7,711.4L1280.2,711.7L1280.7,712.1L1281.2,712.5L1281.7,712.4L1282.2,712.4L1282.7,712.4L1283.2,712.6L1283.7,712.7L1284.2,713.0L1284.7,713.4L1285.2,714.0L1285.7,714.9L1286.2,720.2L1286.7,720.4L1287.2,720.7L1287.7,721.1L1288.2,721.7L1288.7,722.8L1289.2,723.2L1289.7,722.8L1290.2,722.4L1290.7,722.2L1291.2,722.1L1291.7,722.0L1292.2,722.0L1292.7,722.1L1293.2,718.6L1293.7,717.3L1294.2,716.6L1294.7,716.2L1295.2,715.8L1295.7,715.6L1296.2,715.5L1296.7,715.4L1297.2,715.4L1297.7,715.5L1298.2,715.6L1298.7,715.8L1299.2,716.1L1299.7,716.5L1300.2,717.1L1300.7,718.2L1301.2,720.2L1301.7,720.4L1302.2,720.7L1302.7,721.1L1303.2,721.7L1303.7,722.8L1304.2,725.2L1304.7,725.4L1305.2,725.8L1305.7,726.2L1306.2,726.9L1306.7,727.7L1307.2,728.8L1307.7,729.9L1307.6,764.1L1305.5,766.6L1305.5,779.6Z" fill="#8e4c17"/>
<path d="M1310.5,779.6L1310.5,766.6L1308.4,764.1L1308.4,728.9L1308.9,727.5L1309.4,726.6L1309.9,726.0L1310.4,725.3L1310.9,724.4L1311.4,723.8L1311.9,723.4L1312.4,723.1L1312.9,723.0L1313.4,722.8L1313.9,722.8L1314.4,722.5L1314.9,721.6L1315.4,721.0L1315.9,720.6L1316.4,720.3L1316.9,720.2L1317.4,720.0L1317.9,720.0L1318.4,718.5L1318.9,717.6L1319.4,717.0L1319.9,716.6L1320.4,716.3L1320.9,716.2L1321.4,716.0L1321.9,716.0L1322.4,716.0L1322.9,715.6L1323.4,714.3L1323.9,713.6L1324.4,713.2L1324.9,712.8L1325.4,712.6L1325.9,712.5L1326.4,712.4L1326.9,712.4L1327.4,712.5L1327.9,712.6L1328.4,712.8L1328.9,713.1L1329.4,713.5L1329.9,714.1L1330.4,715.2L1330.9,718.1L1331.4,718.3L1331.9,718.5L1332.4,718.8L1332.9,719.3L1333.4,720.0L1333.9,722.2L1334.4,722.4L1334.9,722.7L1335.4,723.0L1335.9,723.5L1336.4,724.3L1336.9,726.0L1337.0,764.1L1334.9,766.6L1334.9,779.6Z" fill="#f08c24"/>
<path d="M1339.9,779.6L1339.9,766.6L1337.8,764.1L1337.8,678.4L1338.3,677.0L1338.8,676.1L1339.3,675.5L1339.8,675.1L1340.3,674.8L1340.8,674.7L1341.3,674.5L1341.8,674.5L1342.3,674.5L1342.8,674.6L1343.3,674.8L1343.8,675.0L1344.3,675.3L1344.8,675.8L1345.3,676.5L1345.8,700.1L1346.3,700.2L1346.8,700.4L1347.3,700.8L1347.8,701.2L1348.3,701.9L1348.8,703.2L1349.3,709.6L1349.8,709.7L1350.3,710.0L1350.8,710.4L1351.3,711.0L1351.8,711.9L1352.3,725.1L1352.8,724.7L1353.3,724.4L1353.8,724.2L1354.3,722.3L1354.8,721.4L1355.3,720.8L1355.8,720.4L1356.3,720.1L1356.8,720.0L1357.3,719.8L1357.8,719.8L1358.3,719.8L1358.8,719.9L1359.3,720.1L1359.8,720.3L1360.3,720.6L1360.8,721.1L1361.3,721.8L1361.8,720.6L1362.3,719.8L1362.8,719.3L1363.3,719.0L1363.8,718.7L1364.3,718.5L1364.8,718.4L1365.3,718.4L1365.8,718.4L1366.3,718.5L1366.8,718.7L1367.3,719.0L1367.8,719.3L1368.3,719.8L1368.8,720.6L1369.3,721.5L1369.8,722.9L1369.8,764.1L1367.7,766.6L1367.7,779.6Z" fill="#8e4c17"/>
<path d="M1373.2,779.6L1373.2,766.6L1371.1,764.1L1371.1,729.6L1371.6,728.3L1372.1,727.4L1372.6,726.8L1373.1,726.4L1373.6,726.1L1374.1,726.0L1374.6,725.8L1375.1,725.8L1375.6,725.8L1376.1,725.9L1376.6,722.0L1377.1,721.3L1377.6,720.8L1378.1,720.5L1378.6,720.3L1379.1,720.1L1379.6,720.0L1380.1,720.0L1380.6,720.0L1381.1,714.6L1381.6,713.8L1382.1,713.3L1382.6,713.0L1383.1,712.7L1383.6,712.5L1384.1,712.4L1384.6,712.4L1385.1,712.4L1385.6,712.5L1386.1,712.7L1386.6,713.0L1387.1,713.3L1387.6,713.8L1388.1,714.6L1388.6,718.9L1389.1,719.2L1389.6,719.7L1390.1,720.4L1390.6,722.2L1390.8,764.1L1388.7,766.6L1388.7,779.6Z" fill="#f08c24"/>
<path d="M1394.5,779.6L1394.5,766.6L1392.4,764.1L1392.4,717.1L1392.9,715.7L1393.4,714.8L1393.9,714.2L1394.4,713.8L1394.9,713.5L1395.4,713.4L1395.9,713.2L1396.4,713.2L1396.9,713.2L1397.4,713.3L1397.9,713.5L1398.4,713.7L1398.9,714.0L1399.4,714.5L1399.9,715.2L1400.4,716.9L1400.9,716.9L1401.4,716.9L1401.9,717.0L1402.4,717.2L1402.9,717.4L1403.4,717.7L1403.9,718.2L1404.4,718.9L1404.9,722.1L1405.4,722.3L1405.9,722.5L1406.4,722.8L1406.9,723.3L1407.4,724.0L1407.9,728.8L1408.4,728.9L1408.9,729.0L1409.4,729.2L1409.9,729.5L1410.4,729.9L1410.9,730.5L1411.4,731.6L1411.9,732.6L1411.8,764.1L1409.7,766.6L1409.7,779.6Z" fill="#8e4c17"/>
<path d="M1415.2,779.6L1415.2,766.6L1413.1,764.1L1413.1,705.1L1413.6,703.8L1414.1,702.9L1414.6,702.3L1415.1,701.9L1415.6,701.6L1416.1,701.5L1416.6,701.3L1417.1,701.3L1417.6,688.4L1418.1,687.7L1418.6,687.2L1419.1,686.9L1419.6,686.7L1420.1,686.5L1420.6,686.4L1421.1,686.4L1421.6,686.4L1422.1,686.6L1422.6,686.7L1423.1,687.0L1423.6,687.4L1424.1,688.0L1424.6,688.9L1425.1,711.4L1425.6,710.7L1426.1,710.2L1426.6,709.9L1427.1,709.7L1427.6,709.5L1428.1,709.4L1428.6,709.4L1429.1,709.4L1429.6,709.6L1430.1,709.7L1430.6,710.0L1431.1,709.9L1431.6,709.2L1432.1,708.8L1432.6,708.4L1433.1,708.2L1433.6,708.1L1434.1,708.0L1434.6,708.0L1435.1,708.1L1435.6,708.2L1436.1,708.4L1436.6,708.7L1437.1,709.1L1437.6,709.7L1438.1,710.8L1438.6,713.4L1439.1,714.0L1439.6,714.9L1440.1,720.0L1440.6,720.0L1441.1,720.2L1441.6,720.3L1442.1,720.6L1442.6,721.0L1443.1,721.6L1443.6,722.0L1444.1,721.3L1444.6,720.8L1445.1,720.5L1445.6,720.3L1446.1,720.1L1446.6,718.0L1447.1,717.3L1447.6,716.8L1448.1,716.5L1448.6,716.3L1449.1,716.1L1449.6,716.0L1450.1,716.0L1450.6,716.0L1451.1,715.9L1451.6,715.7L1452.1,715.5L1452.6,715.4L1453.1,715.4L1453.6,715.4L1454.1,715.6L1454.6,715.7L1455.1,716.0L1455.6,716.4L1456.1,717.0L1456.6,717.9L1457.1,718.2L1457.6,718.3L1458.1,718.6L1458.6,719.0L1459.1,719.6L1459.6,720.5L1460.1,721.3L1460.6,721.4L1461.1,721.6L1461.6,721.8L1462.1,722.0L1462.6,722.0L1463.1,722.2L1463.6,722.3L1464.1,722.6L1464.6,723.0L1465.1,723.6L1465.6,724.5L1466.1,725.0L1466.6,725.1L1467.1,725.3L1467.6,725.6L1468.1,725.9L1468.6,726.0L1469.1,726.0L1469.6,726.0L1470.1,726.2L1470.6,726.3L1471.1,726.6L1471.6,727.0L1472.1,727.6L1472.6,728.0L1473.1,728.1L1473.6,728.2L1474.1,728.4L1474.6,728.8L1475.1,729.0L1475.6,729.1L1476.1,729.2L1476.6,729.4L1477.1,729.7L1477.6,730.1L1478.1,730.7L1478.6,731.8L1479.1,732.9L1479.0,764.1L1476.9,766.6L1476.9,779.6Z" fill="#f08c24"/>
<circle cx="1434.4" cy="703.5" r="3.85" fill="#f08c24"/>
<rect x="1431.35" y="675.3" width="7.7" height="18.50" rx="3.85" fill="#f08c24"/>
<line x1="119.4" y1="56.6" x2="119.4" y2="285.5" stroke="#000" stroke-width="2.6"/>
<line x1="108.3" y1="274.05" x2="119.4" y2="274.05" stroke="#000" stroke-width="2.5"/>
<text x="98.2" y="285.7" text-anchor="end" font-size="32" font-family="Liberation Sans, Arial, Helvetica, sans-serif">0</text>
<line x1="108.3" y1="132.65" x2="119.4" y2="132.65" stroke="#000" stroke-width="2.5"/>
<text x="98.2" y="144.2" text-anchor="end" font-size="32" font-family="Liberation Sans, Arial, Helvetica, sans-serif">10</text>
<line x1="119.4" y1="170.8" x2="1539" y2="170.8" stroke="#000" stroke-width="2.2" stroke-dasharray="5.8 2.4"/>
<line x1="119.4" y1="308.5" x2="119.4" y2="537.4" stroke="#000" stroke-width="2.6"/>
<line x1="108.3" y1="525.95" x2="119.4" y2="525.95" stroke="#000" stroke-width="2.5"/>
<text x="98.2" y="537.6" text-anchor="end" font-size="32" font-family="Liberation Sans, Arial, Helvetica, sans-serif">0</text>
<line x1="108.3" y1="384.55" x2="119.4" y2="384.55" stroke="#000" stroke-width="2.5"/>
<text x="98.2" y="396.2" text-anchor="end" font-size="32" font-family="Liberation Sans, Arial, Helvetica, sans-serif">10</text>
<line x1="119.4" y1="422.7" x2="1539" y2="422.7" stroke="#000" stroke-width="2.2" stroke-dasharray="5.8 2.4"/>
<line x1="119.4" y1="560.7" x2="119.4" y2="788.3" stroke="#000" stroke-width="2.6"/>
<line x1="108.3" y1="778.20" x2="119.4" y2="778.20" stroke="#000" stroke-width="2.5"/>
<text x="98.2" y="789.8" text-anchor="end" font-size="32" font-family="Liberation Sans, Arial, Helvetica, sans-serif">0</text>
<line x1="108.3" y1="636.80" x2="119.4" y2="636.80" stroke="#000" stroke-width="2.5"/>
<text x="98.2" y="648.4" text-anchor="end" font-size="32" font-family="Liberation Sans, Arial, Helvetica, sans-serif">10</text>
<line x1="119.4" y1="675.0" x2="1539" y2="675.0" stroke="#000" stroke-width="2.2" stroke-dasharray="5.8 2.4"/>
<line x1="118.1" y1="788.3" x2="1541" y2="788.3" stroke="#000" stroke-width="2.6"/>
<line x1="231.4" y1="788.3" x2="231.4" y2="799" stroke="#000" stroke-width="2.5"/>
<text transform="translate(249.9,818.5) rotate(-60)" text-anchor="end" font-size="25" font-family="Liberation Sans, Arial, Helvetica, sans-serif">chr1</text>
<line x1="423.4" y1="788.3" x2="423.4" y2="799" stroke="#000" stroke-width="2.5"/>
<text transform="translate(441.9,818.5) rotate(-60)" text-anchor="end" font-size="25" font-family="Liberation Sans, Arial, Helvetica, sans-serif">chr3</text>
<line x1="584.2" y1="788.3" x2="584.2" y2="799" stroke="#000" stroke-width="2.5"/>
<text transform="translate(602.8,818.5) rotate(-60)" text-anchor="end" font-size="25" font-family="Liberation Sans, Arial, Helvetica, sans-serif">chr5</text>
<line x1="729.8" y1="788.3" x2="729.8" y2="799" stroke="#000" stroke-width="2.5"/>
<text transform="translate(748.3,818.5) rotate(-60)" text-anchor="end" font-size="25" font-family="Liberation Sans, Arial, Helvetica, sans-serif">chr7</text>
<line x1="857.0" y1="788.3" x2="857.0" y2="799" stroke="#000" stroke-width="2.5"/>
<text transform="translate(875.5,818.5) rotate(-60)" text-anchor="end" font-size="25" font-family="Liberation Sans, Arial, Helvetica, sans-serif">chr9</text>
<line x1="975.5" y1="788.3" x2="975.5" y2="799" stroke="#000" stroke-width="2.5"/>
<text transform="translate(996.2,818.5) rotate(-60)" text-anchor="end" font-size="25" font-family="Liberation Sans, Arial, Helvetica, sans-serif">chr11</text>
<line x1="1085.8" y1="788.3" x2="1085.8" y2="799" stroke="#000" stroke-width="2.5"/>
<text transform="translate(1106.6,818.5) rotate(-60)" text-anchor="end" font-size="25" font-family="Liberation Sans, Arial, Helvetica, sans-serif">chr13</text>
<line x1="1168.7" y1="788.3" x2="1168.7" y2="799" stroke="#000" stroke-width="2.5"/>
<text transform="translate(1189.5,818.5) rotate(-60)" text-anchor="end" font-size="25" font-family="Liberation Sans, Arial, Helvetica, sans-serif">chr15</text>
<line x1="1250.2" y1="788.3" x2="1250.2" y2="799" stroke="#000" stroke-width="2.5"/>
<text transform="translate(1271.0,818.5) rotate(-60)" text-anchor="end" font-size="25" font-family="Liberation Sans, Arial, Helvetica, sans-serif">chr17</text>
<line x1="1322.7" y1="788.3" x2="1322.7" y2="799" stroke="#000" stroke-width="2.5"/>
<text transform="translate(1343.5,818.5) rotate(-60)" text-anchor="end" font-size="25" font-family="Liberation Sans, Arial, Helvetica, sans-serif">chr19</text>
<line x1="1381.3" y1="788.3" x2="1381.3" y2="799" stroke="#000" stroke-width="2.5"/>
<text transform="translate(1402.1,818.5) rotate(-60)" text-anchor="end" font-size="25" font-family="Liberation Sans, Arial, Helvetica, sans-serif">chr21</text>
<line x1="1446.1" y1="788.3" x2="1446.1" y2="799" stroke="#000" stroke-width="2.5"/>
<text transform="translate(1464.6,818.5) rotate(-60)" text-anchor="end" font-size="25" font-family="Liberation Sans, Arial, Helvetica, sans-serif">chrX</text>
<text x="772.5" y="31.4" text-anchor="middle" font-size="37" style="stroke-width:0.75px" font-family="Liberation Sans, Arial, Helvetica, sans-serif">Replication-Timing</text>
<g transform="translate(33,0) rotate(-90)" font-family="Liberation Sans, Arial, Helvetica, sans-serif"><text x="-587" y="3.5" font-size="46" textLength="28.8" lengthAdjust="spacingAndGlyphs">&#8722;</text><text x="-555.5" y="0" font-size="38.5" textLength="55.5" lengthAdjust="spacing">log</text><text x="-500" y="6.5" font-size="28.5">10</text><text x="-458.8" y="0" font-size="38.5" textLength="164.5" lengthAdjust="spacingAndGlyphs">(p-value)</text></g>
<text x="1347.5" y="59" font-size="23.6" font-style="italic" font-family="Liberation Sans, Arial, Helvetica, sans-serif">RAD21L1</text>
<text x="633" y="385.1" font-size="23.6" font-style="italic" font-family="Liberation Sans, Arial, Helvetica, sans-serif">EXOC2</text>
<text x="327.5" y="654.7" font-size="23.6" font-style="italic" font-family="Liberation Sans, Arial, Helvetica, sans-serif">FAM178B</text>
<text x="467" y="626.4" font-size="23.6" font-style="italic" font-family="Liberation Sans, Arial, Helvetica, sans-serif">PRDM9</text>
</svg></body></html>
